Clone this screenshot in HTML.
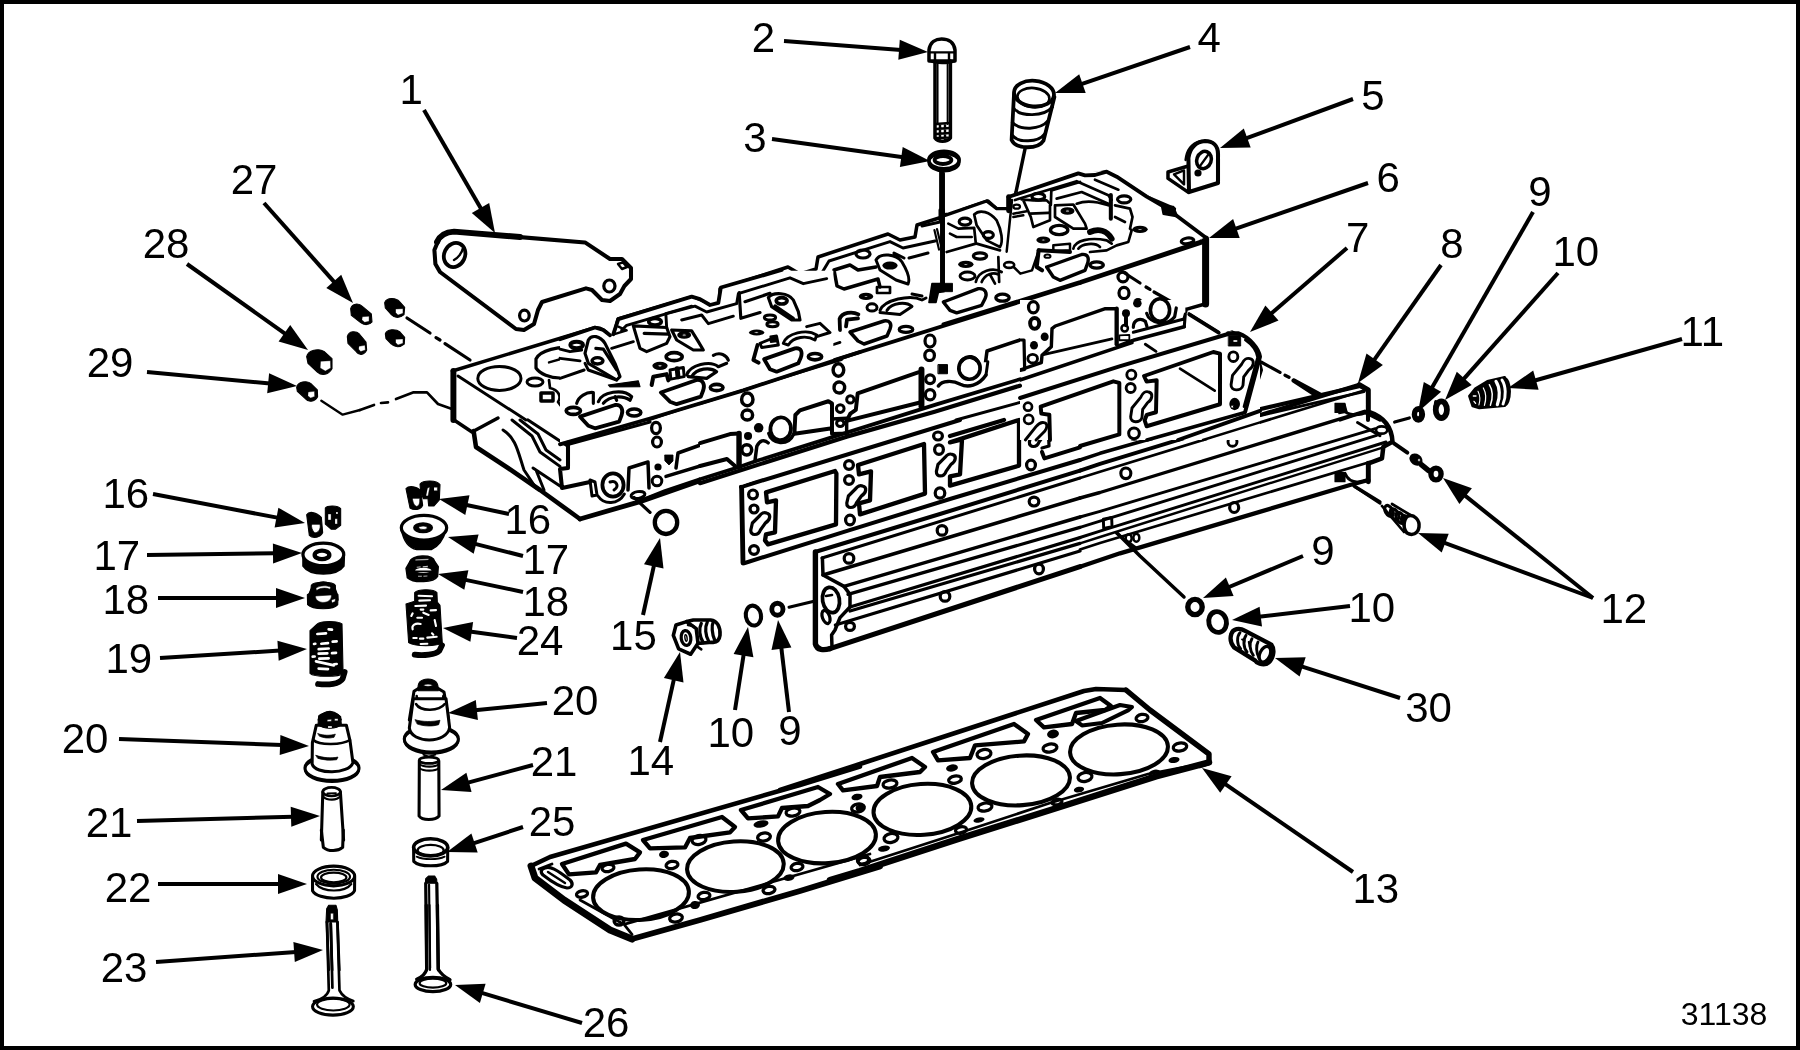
<!DOCTYPE html>
<html><head><meta charset="utf-8"><title>31138</title>
<style>
html,body{margin:0;padding:0;background:#fff;}
body{width:1800px;height:1050px;overflow:hidden;position:relative;}
#frame{position:absolute;left:0;top:0;width:1800px;height:1050px;box-sizing:border-box;border:4px solid #000;pointer-events:none;}
svg{position:absolute;left:0;top:0;display:block;}
svg text{font-family:"Liberation Sans",Arial,Helvetica,sans-serif;fill:#000;}
svg{will-change:transform;}
</style></head><body>
<svg width="1800" height="1050" viewBox="0 0 1800 1050" stroke-linecap="round" stroke-linejoin="round">
<text x="399.4" y="104" font-size="42">1</text>
<text x="230.7" y="193.5" font-size="42">27</text>
<text x="142.7" y="257.5" font-size="42">28</text>
<text x="86.7" y="377" font-size="42">29</text>
<text x="751.7" y="52" font-size="42">2</text>
<text x="743.2" y="152" font-size="42">3</text>
<text x="1197.5" y="52" font-size="42">4</text>
<text x="1361.2" y="109.5" font-size="42">5</text>
<text x="1376.4" y="192" font-size="42">6</text>
<text x="1346.0" y="252" font-size="42">7</text>
<text x="1440.2" y="257.5" font-size="42">8</text>
<text x="1528.2" y="206" font-size="42">9</text>
<text x="1552.4" y="266" font-size="42">10</text>
<text x="1680.4" y="346" font-size="42">11</text>
<text x="102.4" y="508" font-size="42">16</text>
<text x="93.4" y="570" font-size="42">17</text>
<text x="102.4" y="613.5" font-size="42">18</text>
<text x="105.4" y="673" font-size="42">19</text>
<text x="504.4" y="534" font-size="42">16</text>
<text x="522.4" y="574" font-size="42">17</text>
<text x="522.4" y="616" font-size="42">18</text>
<text x="516.7" y="655" font-size="42">24</text>
<text x="551.7" y="715" font-size="42">20</text>
<text x="61.7" y="753" font-size="42">20</text>
<text x="85.7" y="837" font-size="42">21</text>
<text x="104.7" y="902" font-size="42">22</text>
<text x="100.7" y="982" font-size="42">23</text>
<text x="530.7" y="776" font-size="42">21</text>
<text x="528.7" y="836" font-size="42">25</text>
<text x="582.7" y="1037" font-size="42">26</text>
<text x="610.1" y="650" font-size="42">15</text>
<text x="627.4" y="775" font-size="42">14</text>
<text x="707.4" y="747" font-size="42">10</text>
<text x="778.2" y="745" font-size="42">9</text>
<text x="1311.2" y="565" font-size="42">9</text>
<text x="1348.4" y="622" font-size="42">10</text>
<text x="1600.4" y="623" font-size="42">12</text>
<text x="1405.2" y="722" font-size="42">30</text>
<clipPath id="c13"><rect x="1340" y="860" width="58.5" height="60"/></clipPath>
<g clip-path="url(#c13)">
<text x="1352.4" y="903" font-size="42">13</text>
</g>
<text x="1680.7" y="1025" font-size="32">31138</text>
<line x1="424.0" y1="110.0" x2="481.5" y2="209.6" stroke="#000" stroke-width="4" stroke-linecap="butt"/>
<polygon points="495.0,233.0 471.8,212.9 489.2,202.9" fill="#000"/>
<line x1="264.0" y1="203.0" x2="335.0" y2="282.8" stroke="#000" stroke-width="4" stroke-linecap="butt"/>
<polygon points="353.0,303.0 326.3,288.0 341.2,274.7" fill="#000"/>
<line x1="187.0" y1="264.0" x2="286.0" y2="334.4" stroke="#000" stroke-width="4" stroke-linecap="butt"/>
<polygon points="308.0,350.0 278.6,341.4 290.2,325.0" fill="#000"/>
<line x1="147.0" y1="372.0" x2="270.1" y2="383.5" stroke="#000" stroke-width="4" stroke-linecap="butt"/>
<polygon points="297.0,386.0 267.2,393.3 269.1,373.3" fill="#000"/>
<line x1="784.0" y1="41.0" x2="901.1" y2="49.9" stroke="#000" stroke-width="4" stroke-linecap="butt"/>
<polygon points="928.0,52.0 898.3,59.8 899.8,39.8" fill="#000"/>
<line x1="772.0" y1="139.0" x2="903.3" y2="157.3" stroke="#000" stroke-width="4" stroke-linecap="butt"/>
<polygon points="930.0,161.0 899.9,166.9 902.7,147.1" fill="#000"/>
<line x1="1190.0" y1="47.0" x2="1080.6" y2="84.3" stroke="#000" stroke-width="4" stroke-linecap="butt"/>
<polygon points="1055.0,93.0 1079.2,74.2 1085.7,93.1" fill="#000"/>
<line x1="1353.0" y1="99.0" x2="1245.3" y2="138.7" stroke="#000" stroke-width="4" stroke-linecap="butt"/>
<polygon points="1220.0,148.0 1243.8,128.6 1250.7,147.4" fill="#000"/>
<line x1="1368.0" y1="183.0" x2="1234.5" y2="229.2" stroke="#000" stroke-width="4" stroke-linecap="butt"/>
<polygon points="1209.0,238.0 1233.1,219.1 1239.7,238.0" fill="#000"/>
<line x1="1347.0" y1="248.0" x2="1270.4" y2="314.3" stroke="#000" stroke-width="4" stroke-linecap="butt"/>
<polygon points="1250.0,332.0 1265.4,305.5 1278.5,320.6" fill="#000"/>
<line x1="1441.0" y1="265.0" x2="1373.5" y2="360.9" stroke="#000" stroke-width="4" stroke-linecap="butt"/>
<polygon points="1358.0,383.0 1366.5,353.5 1382.9,365.0" fill="#000"/>
<line x1="1533.0" y1="212.0" x2="1431.5" y2="388.6" stroke="#000" stroke-width="4" stroke-linecap="butt"/>
<polygon points="1418.0,412.0 1423.8,381.9 1441.1,391.8" fill="#000"/>
<line x1="1558.0" y1="273.0" x2="1462.9" y2="379.8" stroke="#000" stroke-width="4" stroke-linecap="butt"/>
<polygon points="1445.0,400.0 1456.8,371.7 1471.7,385.0" fill="#000"/>
<line x1="1682.0" y1="339.0" x2="1534.0" y2="380.7" stroke="#000" stroke-width="4" stroke-linecap="butt"/>
<polygon points="1508.0,388.0 1533.2,370.5 1538.6,389.8" fill="#000"/>
<line x1="153.0" y1="494.0" x2="278.5" y2="517.9" stroke="#000" stroke-width="4" stroke-linecap="butt"/>
<polygon points="305.0,523.0 274.6,527.4 278.4,507.7" fill="#000"/>
<line x1="147.0" y1="555.0" x2="275.0" y2="553.3" stroke="#000" stroke-width="4" stroke-linecap="butt"/>
<polygon points="302.0,553.0 273.1,563.4 272.9,543.4" fill="#000"/>
<line x1="158.0" y1="598.0" x2="278.0" y2="598.0" stroke="#000" stroke-width="4" stroke-linecap="butt"/>
<polygon points="305.0,598.0 276.0,608.0 276.0,588.0" fill="#000"/>
<line x1="160.0" y1="658.0" x2="280.1" y2="650.6" stroke="#000" stroke-width="4" stroke-linecap="butt"/>
<polygon points="307.0,649.0 278.7,660.8 277.4,640.8" fill="#000"/>
<line x1="509.0" y1="514.0" x2="465.4" y2="504.7" stroke="#000" stroke-width="4" stroke-linecap="butt"/>
<polygon points="439.0,499.0 469.5,495.3 465.3,514.9" fill="#000"/>
<line x1="523.0" y1="556.0" x2="474.2" y2="543.6" stroke="#000" stroke-width="4" stroke-linecap="butt"/>
<polygon points="448.0,537.0 478.6,534.4 473.7,553.8" fill="#000"/>
<line x1="523.0" y1="592.0" x2="464.4" y2="579.6" stroke="#000" stroke-width="4" stroke-linecap="butt"/>
<polygon points="438.0,574.0 468.4,570.2 464.3,589.8" fill="#000"/>
<line x1="517.0" y1="638.0" x2="469.8" y2="631.6" stroke="#000" stroke-width="4" stroke-linecap="butt"/>
<polygon points="443.0,628.0 473.1,622.0 470.4,641.8" fill="#000"/>
<line x1="119.0" y1="739.0" x2="282.0" y2="745.0" stroke="#000" stroke-width="4" stroke-linecap="butt"/>
<polygon points="309.0,746.0 279.7,754.9 280.4,734.9" fill="#000"/>
<line x1="137.0" y1="821.0" x2="293.0" y2="816.7" stroke="#000" stroke-width="4" stroke-linecap="butt"/>
<polygon points="320.0,816.0 291.3,826.8 290.7,806.8" fill="#000"/>
<line x1="158.0" y1="884.0" x2="280.0" y2="884.0" stroke="#000" stroke-width="4" stroke-linecap="butt"/>
<polygon points="307.0,884.0 278.0,894.0 278.0,874.0" fill="#000"/>
<line x1="156.0" y1="962.0" x2="296.1" y2="951.9" stroke="#000" stroke-width="4" stroke-linecap="butt"/>
<polygon points="323.0,950.0 294.8,962.1 293.4,942.1" fill="#000"/>
<line x1="547.0" y1="703.0" x2="474.9" y2="710.3" stroke="#000" stroke-width="4" stroke-linecap="butt"/>
<polygon points="448.0,713.0 475.8,700.1 477.9,720.0" fill="#000"/>
<line x1="533.0" y1="765.0" x2="467.1" y2="782.9" stroke="#000" stroke-width="4" stroke-linecap="butt"/>
<polygon points="441.0,790.0 466.4,772.7 471.6,792.0" fill="#000"/>
<line x1="523.0" y1="827.0" x2="472.6" y2="843.6" stroke="#000" stroke-width="4" stroke-linecap="butt"/>
<polygon points="447.0,852.0 471.4,833.4 477.7,852.4" fill="#000"/>
<line x1="582.0" y1="1023.0" x2="480.9" y2="992.7" stroke="#000" stroke-width="4" stroke-linecap="butt"/>
<polygon points="455.0,985.0 485.6,983.7 479.9,1002.9" fill="#000"/>
<line x1="643.0" y1="615.0" x2="654.2" y2="564.4" stroke="#000" stroke-width="4" stroke-linecap="butt"/>
<polygon points="660.0,538.0 663.5,568.5 644.0,564.2" fill="#000"/>
<line x1="660.0" y1="742.0" x2="674.1" y2="678.4" stroke="#000" stroke-width="4" stroke-linecap="butt"/>
<polygon points="680.0,652.0 683.5,682.5 663.9,678.1" fill="#000"/>
<line x1="735.0" y1="710.0" x2="743.8" y2="653.7" stroke="#000" stroke-width="4" stroke-linecap="butt"/>
<polygon points="748.0,627.0 753.4,657.2 733.6,654.1" fill="#000"/>
<line x1="789.0" y1="712.0" x2="781.2" y2="646.8" stroke="#000" stroke-width="4" stroke-linecap="butt"/>
<polygon points="778.0,620.0 791.4,647.6 771.5,650.0" fill="#000"/>
<line x1="1303.0" y1="556.0" x2="1227.9" y2="587.5" stroke="#000" stroke-width="4" stroke-linecap="butt"/>
<polygon points="1203.0,598.0 1225.9,577.6 1233.6,596.0" fill="#000"/>
<line x1="1350.0" y1="606.0" x2="1258.8" y2="616.8" stroke="#000" stroke-width="4" stroke-linecap="butt"/>
<polygon points="1232.0,620.0 1259.6,606.7 1262.0,626.5" fill="#000"/>
<line x1="1400.0" y1="698.0" x2="1300.7" y2="666.2" stroke="#000" stroke-width="4" stroke-linecap="butt"/>
<polygon points="1275.0,658.0 1305.7,657.3 1299.6,676.4" fill="#000"/>
<line x1="1593.0" y1="598.0" x2="1464.1" y2="494.9" stroke="#000" stroke-width="4" stroke-linecap="butt"/>
<polygon points="1443.0,478.0 1471.9,488.3 1459.4,503.9" fill="#000"/>
<line x1="1593.0" y1="598.0" x2="1443.3" y2="542.4" stroke="#000" stroke-width="4" stroke-linecap="butt"/>
<polygon points="1418.0,533.0 1448.7,533.7 1441.7,552.5" fill="#000"/>
<line x1="1353.0" y1="872.0" x2="1224.2" y2="783.3" stroke="#000" stroke-width="4" stroke-linecap="butt"/>
<polygon points="1202.0,768.0 1231.6,776.2 1220.2,792.7" fill="#000"/>
<g transform="translate(360,210) scale(0.2)" fill="none" stroke="#000" stroke-width="11">
<path d="M460,108 L1125,162 L1250,245 L1310,245 L1355,290 L1355,345 L1322,380 L1300,420 L1250,455 L1210,450 L1160,400 L1130,392 L910,460 L890,500 L870,570 L820,600 L780,595 L400,310 L377,270 L372,200 L395,145 L430,115 Z" stroke-width="20.25" fill="none"/>
<path d="M385,160 C400,125 430,110 470,108 L800,135" stroke-width="29.700000000000003" fill="none"/>
<ellipse cx="473" cy="225" rx="52" ry="62" stroke-width="18.900000000000002" fill="none" transform="rotate(25 473 225)"/>
<path d="M470,250 C490,240 510,215 515,190" stroke-width="12.15" fill="none"/>
<ellipse cx="1247" cy="380" rx="28" ry="30" stroke-width="16.200000000000003" fill="none"/>
<ellipse cx="822" cy="528" rx="24" ry="27" stroke-width="16.200000000000003" fill="none"/>
<path d="M1290,270 L1315,262 L1335,285 L1310,295 Z" stroke-width="12.15" fill="none"/>
<path d="M235,540 L350,615 M380,638 L400,650 M425,668 L550,750" stroke-width="16.200000000000003" fill="none"/>
<path d="M0,1000 L70,975 M105,965 L140,962 M180,945 L265,912 L335,912 L390,970 L460,995" stroke-width="13.5" fill="none"/>
<path d="M462,805 L1170,590 C1200,585 1225,600 1245,628" stroke-width="17.55" fill="none"/>
<path d="M1270,622 L1290,545 L1660,435 L1720,470 L1800,480" stroke-width="17.55" fill="none"/>
<path d="M1310,560 L1335,600 L1285,612" stroke-width="12.15" fill="none"/>
<path d="M467,805 L467,1050" stroke-width="29.700000000000003" fill="none"/>
<path d="M490,830 L830,1050" stroke-width="14.850000000000001" fill="none"/>
<ellipse cx="697" cy="842" rx="108" ry="60" stroke-width="14.850000000000001" fill="none"/>
<ellipse cx="875" cy="860" rx="40" ry="20" stroke-width="14.850000000000001" fill="none"/>
<path d="M905,915 L965,915 L965,955 L905,955 Z" stroke-width="17.55" fill="none"/>
<path d="M880,745 C900,700 1000,680 1060,690 L1120,740 C1130,770 1125,800 1120,810 L1000,840 C950,840 900,820 880,790 Z" stroke-width="16.200000000000003" fill="none"/>
<path d="M945,762 L1040,735 L1100,745" stroke-width="12.15" fill="none"/>
<ellipse cx="1085" cy="675" rx="30" ry="18" stroke-width="18.900000000000002" fill="none"/>
<ellipse cx="1190" cy="750" rx="28" ry="18" stroke-width="18.900000000000002" fill="none"/>
<path d="M1140,650 C1170,615 1215,650 1245,720 C1275,785 1300,830 1310,865 M1140,650 C1130,685 1150,710 1185,720 M1190,690 L1235,725 M1140,800 L1300,860" stroke-width="13.5" fill="none"/>
<path d="M1255,670 L1370,635 L1380,655 M1265,700 L1365,685" stroke-width="13.5" fill="none"/>
<path d="M945,850 L950,890 C990,900 1010,930 990,960 L1005,980 L1100,950 M1080,940 C1090,920 1130,910 1160,915 L1165,970 M1195,970 C1200,930 1240,905 1300,910 C1340,912 1360,930 1350,950 L1280,930 L1215,960" stroke-width="13.5" fill="none"/>
<path d="M1300,860 L1400,850 L1405,890 L1470,905 L1440,930 L1100,990 M1100,990 L1105,965" stroke-width="14.850000000000001" fill="none"/>
<ellipse cx="1075" cy="1005" rx="40" ry="20" stroke-width="16.200000000000003" fill="none"/>
<ellipse cx="1370" cy="1015" rx="30" ry="18" stroke-width="16.200000000000003" fill="none"/>
<path d="M1130,1010 L1300,985 L1310,1050" stroke-width="13.5" fill="none"/>
<path d="M1370,575 L1530,540 L1560,610 L1690,600 L1720,680 L1690,700 L1600,680 L1450,715 L1400,690 L1385,610 Z" stroke-width="13.5" fill="none"/>
<ellipse cx="1480" cy="560" rx="30" ry="18" stroke-width="17.55" fill="none"/>
<ellipse cx="1615" cy="625" rx="28" ry="16" stroke-width="17.55" fill="none"/>
<path d="M1540,520 L1680,480 L1760,500 M1610,550 L1700,530 L1750,565 L1800,560 M1420,620 L1540,600" stroke-width="12.15" fill="none"/>
<ellipse cx="1570" cy="735" rx="40" ry="18" stroke-width="13.5" fill="none" transform="rotate(-10 1570 735)"/>
<ellipse cx="1500" cy="775" rx="32" ry="18" stroke-width="17.55" fill="none"/>
<path d="M1545,840 L1550,790 L1600,780 L1605,830 M1640,820 C1660,780 1720,765 1800,770 M1680,830 C1700,805 1750,795 1800,800" stroke-width="13.5" fill="none"/>
<path d="M1460,830 L1540,815 L1545,850 L1480,870 Z" stroke-width="12.15" fill="none"/>
<path d="M1510,905 L1670,850 L1700,870 L1710,910 L1580,965 L1545,950 Z" stroke-width="14.850000000000001" fill="none"/>
<ellipse cx="1780" cy="890" rx="25" ry="14" stroke-width="13.5" fill="none"/>
<path d="M1440,1050 L1800,930" stroke-width="16.200000000000003" fill="none"/>
</g>
<g transform="translate(360,420) scale(0.2)" fill="none" stroke="#000" stroke-width="11">
<path d="M470,0 L560,60 L690,-10" stroke-width="17.55" fill="none"/>
<path d="M568,55 L580,135 L740,240 L900,350 L1100,495" stroke-width="22.950000000000003" fill="none"/>
<path d="M1100,495 L1400,408 L1800,268" stroke-width="24.3" fill="none"/>
<path d="M1040,0 L1040,240 L1000,245 L1010,340 L1150,310" stroke-width="20.25" fill="none"/>
<path d="M840,0 L1030,125 L1450,10" stroke-width="16.200000000000003" fill="none"/>
<path d="M715,50 C780,90 790,160 820,250 L880,340 M760,0 L860,80 L900,160 L1000,232 M800,0 L890,70 L930,150 L1000,200 M865,240 L1000,330 M880,250 L920,350" stroke-width="14.850000000000001" fill="none"/>
<path d="M1150,300 L1175,310 L1185,375 L1160,380 Z" stroke-width="14.850000000000001" fill="none"/>
<ellipse cx="1265" cy="325" rx="53" ry="58" stroke-width="18.900000000000002" fill="none"/>
<path d="M1250,310 C1280,300 1300,330 1270,350 M1190,380 C1220,425 1290,425 1322,370" stroke-width="14.850000000000001" fill="none"/>
<path d="M1340,350 L1345,240 L1440,210 L1445,340" stroke-width="17.55" fill="none"/>
<ellipse cx="1490" cy="235" rx="18" ry="18" stroke="none" fill="#000"/>
<path d="M1525,175 L1565,175 L1565,205 L1545,225 L1525,205 Z" stroke-width="4.050000000000001" fill="#000"/>
<ellipse cx="1485" cy="305" rx="24" ry="24" stroke-width="14.850000000000001" fill="none"/>
<path d="M1580,240 L1590,165 L1800,90 M1530,282 L1800,200 M1400,405 L1525,355 L1800,262" stroke-width="17.55" fill="none"/>
<ellipse cx="1480" cy="40" rx="22" ry="28" stroke-width="16.200000000000003" fill="none"/>
<ellipse cx="1485" cy="110" rx="22" ry="25" stroke-width="16.200000000000003" fill="none"/>
<ellipse cx="1390" cy="375" rx="35" ry="17" stroke-width="14.850000000000001" fill="none" transform="rotate(-10 1390 375)"/>
<path d="M1370,387 L1450,462" stroke-width="16.200000000000003" fill="none"/>
<ellipse cx="1530" cy="512" rx="56" ry="58" stroke-width="21.6" fill="none"/>
</g>
<g transform="translate(240,270) scale(0.13333333333333333)" fill="none" stroke="#000" stroke-width="11">
<path d="M830,290 C840,250 890,245 920,275 L985,330 L990,390 C970,415 930,415 905,395 L835,340 Z" stroke-width="8.100000000000001" fill="#000"/>
<path d="M918,350 L968,347 L968,385 L935,392 L915,375 Z" stroke-width="2.7" fill="#fff"/>
<path d="M1085,245 C1100,205 1170,205 1200,240 L1235,280 L1230,335 C1200,362 1160,362 1135,335 L1090,285 Z" stroke-width="8.100000000000001" fill="#000"/>
<path d="M1168,293 L1222,290 L1222,325 L1185,338 L1168,320 Z" stroke-width="2.7" fill="#fff"/>
<path d="M805,500 C815,455 870,455 895,480 L945,540 L950,600 C930,642 890,642 870,610 L810,550 Z" stroke-width="8.100000000000001" fill="#000"/>
<path d="M893,572 L937,565 L940,600 L905,612 L890,595 Z" stroke-width="2.7" fill="#fff"/>
<path d="M1090,480 C1100,440 1170,440 1200,465 L1235,505 L1232,555 C1200,582 1160,582 1135,555 L1095,515 Z" stroke-width="8.100000000000001" fill="#000"/>
<path d="M1168,520 L1222,517 L1222,550 L1185,562 L1168,545 Z" stroke-width="2.7" fill="#fff"/>
<path d="M500,650 C510,600 590,585 630,610 L690,665 L690,740 C660,792 610,792 580,765 L510,700 Z" stroke-width="8.100000000000001" fill="#000"/>
<path d="M605,685 L678,680 L680,735 L640,758 L602,735 Z" stroke-width="2.7" fill="#fff"/>
<path d="M425,880 C435,835 500,830 530,850 L580,900 L582,950 C560,992 510,992 490,965 L430,910 Z" stroke-width="8.100000000000001" fill="#000"/>
<path d="M512,915 L558,910 L560,948 L530,960 L510,945 Z" stroke-width="2.7" fill="#fff"/>
<path d="M610,980 L770,1085 L900,1050" stroke-width="17.55" fill="none"/>
</g>
<g transform="translate(720,0) scale(0.2)" fill="none" stroke="#000" stroke-width="11">
<path d="M1045,305 L1045,250 C1050,210 1080,195 1108,195 C1140,195 1170,210 1175,250 L1175,305 Z" stroke-width="17.55" fill="none"/>
<path d="M1050,262 L1170,262 M1075,262 L1075,305 M1145,262 L1145,305 M1050,305 C1080,318 1140,318 1172,305" stroke-width="12.15" fill="none"/>
<path d="M1075,305 L1075,690 C1090,712 1135,712 1152,690 L1152,305" stroke-width="17.55" fill="none"/>
<path d="M1088,310 L1088,620 M1138,310 L1138,620" stroke-width="9.450000000000001" fill="none"/>
<path d="M1078,620 L1150,615 M1078,645 L1150,640 M1078,670 L1150,665 M1080,690 L1150,688 M1100,625 L1100,700 M1125,625 L1125,700" stroke-width="12.15" fill="none"/>
<ellipse cx="1120" cy="800" rx="76" ry="44" stroke-width="17.55" fill="none"/>
<ellipse cx="1120" cy="812" rx="76" ry="44" stroke-width="13.5" fill="none"/>
<ellipse cx="1115" cy="800" rx="42" ry="20" stroke-width="18.900000000000002" fill="none"/>
<path d="M1105,860 L1105,1050" stroke-width="18.900000000000002" fill="none"/>
<ellipse cx="1570" cy="468" rx="100" ry="64" stroke-width="18.900000000000002" fill="none" transform="rotate(5 1570 468)"/>
<ellipse cx="1567" cy="488" rx="80" ry="48" stroke-width="13.5" fill="none" transform="rotate(5 1567 488)"/>
<path d="M1470,470 L1458,700 C1480,748 1590,748 1618,702 L1672,485" stroke-width="18.900000000000002" fill="none"/>
<path d="M1468,540 C1500,585 1620,585 1662,535 M1462,612 C1500,652 1600,652 1642,602 M1460,675 C1490,715 1590,715 1625,668" stroke-width="14.850000000000001" fill="none"/>
<path d="M1525,745 L1480,960 L1455,1050" stroke-width="17.55" fill="none"/>
<path d="M1210,1050 L1340,1005 L1390,1050" stroke-width="17.55" fill="none"/>
<path d="M1450,1050 L1450,985 L1800,870" stroke-width="18.900000000000002" fill="none"/>
<path d="M1480,1005 L1800,905 M1500,1050 L1520,1000 L1600,980 L1620,1020 L1800,960 M1660,985 L1680,935" stroke-width="13.5" fill="none"/>
<ellipse cx="1590" cy="985" rx="28" ry="15" stroke-width="13.5" fill="none"/>
</g>
<g transform="translate(720,210) scale(0.2)" fill="none" stroke="#000" stroke-width="11">
<path d="M0,480 L0,395 L340,285 L400,320 L480,295 L490,235 L840,120 L900,150 L975,135 L985,75 L1095,40" stroke-width="17.55" fill="none"/>
<path d="M0,480 L50,440 L340,325 L415,365 L415,395 L540,375 M500,330 L545,255 L850,158 L915,190 L1075,155 M945,240 L1040,215 M10,440 L40,455 L0,465" stroke-width="14.850000000000001" fill="none"/>
<path d="M90,415 L100,545 L215,510 M130,455 L340,380" stroke-width="14.850000000000001" fill="none"/>
<path d="M240,440 C260,405 330,405 360,440 C390,490 400,530 390,555 L340,545 L280,490 Z" stroke-width="14.850000000000001" fill="none"/>
<ellipse cx="305" cy="455" rx="24" ry="16" stroke-width="16.200000000000003" fill="none"/>
<ellipse cx="255" cy="545" rx="30" ry="15" stroke-width="13.5" fill="none"/>
<ellipse cx="270" cy="578" rx="30" ry="15" stroke-width="13.5" fill="none"/>
<ellipse cx="180" cy="612" rx="32" ry="12" stroke-width="16.200000000000003" fill="none"/>
<path d="M320,672 C340,620 440,600 480,640 L470,662 C430,637 370,647 345,677 Z M200,660 L300,628 L300,682 L205,692 Z M250,640 L285,632 L285,655 L250,660 Z" stroke-width="13.5" fill="none"/>
<path d="M470,600 L520,575 L555,615 L480,640" stroke-width="13.5" fill="none"/>
<path d="M178,660 L155,760" stroke-width="17.55" fill="none"/>
<path d="M220,740 L380,695 C410,690 415,710 405,730 L390,770 L280,805 L250,790 Z" stroke-width="17.55" fill="none"/>
<ellipse cx="478" cy="738" rx="35" ry="15" stroke-width="14.850000000000001" fill="none"/>
<path d="M0,735 C30,740 42,755 30,765 L70,775 L0,800" stroke-width="13.5" fill="none"/>
<path d="M570,300 L650,275 L690,300 L780,285 M570,300 L585,380 L620,395 L790,345 L800,385" stroke-width="17.55" fill="none"/>
<ellipse cx="715" cy="220" rx="35" ry="20" stroke-width="16.200000000000003" fill="none"/>
<path d="M780,250 C800,212 880,218 910,260 C940,310 950,350 940,370 L880,350 L800,300 Z M870,215 L920,240" stroke-width="14.850000000000001" fill="none"/>
<ellipse cx="850" cy="278" rx="38" ry="20" stroke="none" fill="#000"/>
<path d="M785,385 L850,385 L850,415 L785,415 Z" stroke-width="13.5" fill="none"/>
<ellipse cx="730" cy="432" rx="36" ry="18" stroke="none" fill="#000"/>
<ellipse cx="730" cy="432" rx="12" ry="6" stroke-width="8.100000000000001" fill="#fff"/>
<ellipse cx="760" cy="487" rx="25" ry="18" stroke-width="14.850000000000001" fill="none"/>
<path d="M800,502 C820,450 950,420 1010,450 L1030,440 M835,502 C860,462 930,457 960,482 L900,522 L800,512 M960,420 L1010,430" stroke-width="14.850000000000001" fill="none"/>
<path d="M600,600 L598,545 C610,512 660,505 692,522 M630,582 L635,548 L690,542" stroke-width="18.900000000000002" fill="none"/>
<path d="M650,610 L820,555 C850,550 860,570 850,595 L835,630 L720,670 L690,655 Z" stroke-width="17.55" fill="none"/>
<ellipse cx="930" cy="597" rx="34" ry="15" stroke-width="16.200000000000003" fill="none"/>
<path d="M1115,0 L1115,385" stroke-width="20.25" fill="none"/>
<path d="M1060,368 L1160,368 L1160,402 L1092,412 L1080,462 L1045,462 Z" stroke-width="8.100000000000001" fill="#000"/>
<path d="M1072,100 L1095,198 M1085,95 L1108,190" stroke-width="10.8" fill="none"/>
<path d="M1100,0 L1100,60 L1010,80" stroke-width="14.850000000000001" fill="none"/>
<ellipse cx="1225" cy="60" rx="30" ry="18" stroke-width="16.200000000000003" fill="none"/>
<ellipse cx="1345" cy="125" rx="28" ry="18" stroke-width="16.200000000000003" fill="none"/>
<ellipse cx="1690" cy="100" rx="40" ry="20" stroke-width="14.850000000000001" fill="none"/>
<ellipse cx="1615" cy="150" rx="36" ry="16" stroke="none" fill="#000"/>
<ellipse cx="1615" cy="150" rx="12" ry="5" stroke-width="6.75" fill="#fff"/>
<ellipse cx="1310" cy="230" rx="35" ry="16" stroke-width="14.850000000000001" fill="none"/>
<ellipse cx="1235" cy="270" rx="40" ry="18" stroke="none" fill="#000"/>
<ellipse cx="1235" cy="270" rx="12" ry="5" stroke-width="6.75" fill="#fff"/>
<ellipse cx="1240" cy="325" rx="35" ry="18" stroke-width="14.850000000000001" fill="none"/>
<ellipse cx="1450" cy="270" rx="25" ry="13" stroke-width="13.5" fill="none"/>
<path d="M1420,0 L1388,360" stroke-width="16.200000000000003" fill="none"/>
<path d="M1280,352 C1290,310 1370,290 1425,312 M1312,357 C1322,325 1372,315 1402,327" stroke-width="14.850000000000001" fill="none"/>
<path d="M1130,20 L1200,120 L1280,100 L1290,180 L1140,215 M1290,20 C1330,40 1380,80 1400,130 M1290,150 C1340,170 1380,190 1400,200 M1140,130 L1200,120" stroke-width="13.5" fill="none"/>
<path d="M1120,460 L1290,395 C1330,390 1340,410 1330,440 L1310,470 L1190,510 L1150,495 Z" stroke-width="17.55" fill="none"/>
<ellipse cx="1415" cy="435" rx="34" ry="16" stroke-width="16.200000000000003" fill="none"/>
<path d="M1630,292 L1800,240 M1640,300 L1682,347 L1800,320 M1440,170 L1442,215 M1545,30 L1560,75 L1640,60 M1470,30 L1520,25 M1600,160 L1590,220 L1562,300 L1500,312 L1470,285 M1700,170 L1800,150 M1660,40 L1800,20 M1760,80 L1800,100" stroke-width="14.850000000000001" fill="none"/>
<path d="M0,930 L1800,365" stroke-width="18.900000000000002" fill="none"/>
<path d="M75,778 L170,748 M560,675 L600,662" stroke-width="13.5" fill="none"/>
<path d="M690,1000 L700,910 L990,822 M1005,800 L1005,975 M640,1042 L1000,957" stroke-width="17.55" fill="none"/>
<path d="M1005,800 L1005,975" stroke-width="27.0" fill="none"/>
<path d="M1320,820 L1335,705 L1500,650 L1525,652 L1530,790" stroke-width="17.55" fill="none"/>
<path d="M370,1050 L390,1000 L540,955 L560,1050" stroke-width="16.200000000000003" fill="none"/>
<path d="M1090,965 L1800,775" stroke-width="17.55" fill="none"/>
<ellipse cx="1245" cy="795" rx="52" ry="62" stroke-width="17.55" fill="none" transform="rotate(10 1245 795)"/>
<path d="M1090,778 L1138,772 L1140,820 L1092,822 Z" stroke-width="5.4" fill="#000"/>
<ellipse cx="1625" cy="635" rx="22" ry="24" stroke="none" fill="#000"/>
<ellipse cx="1570" cy="678" rx="20" ry="22" stroke="none" fill="#000"/>
<ellipse cx="1055" cy="852" rx="22" ry="22" stroke-width="14.850000000000001" fill="none"/>
<ellipse cx="1060" cy="920" rx="22" ry="28" stroke-width="14.850000000000001" fill="none" transform="rotate(10 1060 920)"/>
<ellipse cx="1565" cy="745" rx="22" ry="22" stroke-width="14.850000000000001" fill="none"/>
<ellipse cx="595" cy="992" rx="22" ry="22" stroke-width="14.850000000000001" fill="none"/>
<ellipse cx="650" cy="942" rx="22" ry="24" stroke-width="14.850000000000001" fill="none"/>
<ellipse cx="135" cy="945" rx="25" ry="30" stroke-width="14.850000000000001" fill="none" transform="rotate(10 135 945)"/>
<ellipse cx="135" cy="1025" rx="25" ry="25" stroke-width="14.850000000000001" fill="none"/>
<ellipse cx="590" cy="802" rx="25" ry="30" stroke-width="16.200000000000003" fill="none"/>
<ellipse cx="592" cy="885" rx="24" ry="28" stroke-width="16.200000000000003" fill="none" transform="rotate(15 592 885)"/>
<ellipse cx="1050" cy="655" rx="25" ry="30" stroke-width="16.200000000000003" fill="none"/>
<ellipse cx="1048" cy="727" rx="24" ry="26" stroke-width="16.200000000000003" fill="none"/>
<ellipse cx="1570" cy="490" rx="25" ry="30" stroke-width="16.200000000000003" fill="none"/>
<ellipse cx="1572" cy="565" rx="24" ry="28" stroke-width="16.200000000000003" fill="none"/>
<path d="M1090,900 C1100,862 1150,850 1180,862 C1220,892 1270,882 1300,852" stroke-width="16.200000000000003" fill="none"/>
<path d="M1660,700 C1650,640 1680,580 1800,545 M1610,722 L1800,680" stroke-width="16.200000000000003" fill="none"/>
<path d="M1180,1050 L1800,880 M1600,1050 L1620,990 L1800,940 M1540,975 L1550,1010" stroke-width="14.850000000000001" fill="none"/>
<ellipse cx="1540" cy="985" rx="18" ry="20" stroke-width="12.15" fill="none"/>
<ellipse cx="5" cy="888" rx="14" ry="16" stroke="none" fill="#000"/>
</g>
<g transform="translate(720,420) scale(0.2)" fill="none" stroke="#000" stroke-width="11">
<path d="M0,215 L100,225 L170,200 L560,80 L640,62 L870,0" stroke-width="17.55" fill="none"/>
<path d="M0,290 L540,130 L940,0" stroke-width="18.900000000000002" fill="none"/>
<path d="M0,90 L85,75 L95,215" stroke-width="18.900000000000002" fill="none"/>
<ellipse cx="135" cy="148" rx="22" ry="22" stroke-width="16.200000000000003" fill="none"/>
<ellipse cx="135" cy="85" rx="20" ry="20" stroke="none" fill="#000"/>
<ellipse cx="195" cy="40" rx="24" ry="24" stroke="none" fill="#000"/>
<path d="M250,0 C250,60 280,100 310,100 C345,100 365,60 360,0" stroke-width="17.55" fill="none"/>
<path d="M170,200 C175,130 200,100 240,112 C280,142 340,132 380,82 L380,0" stroke-width="16.200000000000003" fill="none"/>
<path d="M560,80 L560,40 L630,25 L635,62" stroke-width="16.200000000000003" fill="none"/>
<ellipse cx="592" cy="12" rx="20" ry="18" stroke-width="14.850000000000001" fill="none"/>
<path d="M108,335 L115,715" stroke-width="24.3" fill="none"/>
<path d="M105,335 L1200,0" stroke-width="20.25" fill="none"/>
<path d="M120,716 L640,553 L1150,395 L1800,200" stroke-width="20.25" fill="none"/>
<path d="M230,362 L575,255 L582,268 L580,522 L240,622 L225,602 L230,572 L275,562 L280,402 L235,412 Z" stroke-width="21.6" fill="none"/>
<path d="M690,225 L1020,120 L1025,368 L700,472 L695,417 L750,402 L755,257 L695,272 Z" stroke-width="21.6" fill="none"/>
<path d="M1150,80 L1420,0 M1495,0 L1495,228 L1150,328 L1150,282 L1200,272 L1210,97 L1150,112 Z" stroke-width="21.6" fill="none"/>
<ellipse cx="165" cy="372" rx="22" ry="22" stroke-width="16.200000000000003" fill="none"/>
<ellipse cx="170" cy="445" rx="20" ry="20" stroke-width="16.200000000000003" fill="none"/>
<path d="M232,465 C257,470 252,500 227,515 L202,550 C192,580 152,580 154,550 L162,515 L197,480 C207,465 222,460 232,465 Z" stroke-width="16.200000000000003" fill="none"/>
<ellipse cx="170" cy="650" rx="22" ry="22" stroke-width="16.200000000000003" fill="none"/>
<ellipse cx="645" cy="225" rx="22" ry="22" stroke-width="16.200000000000003" fill="none"/>
<ellipse cx="645" cy="300" rx="22" ry="22" stroke-width="16.200000000000003" fill="none"/>
<path d="M712,330 C737,335 732,365 707,380 L682,415 C672,445 632,445 634,415 L642,380 L677,345 C687,330 702,325 712,330 Z" stroke-width="16.200000000000003" fill="none"/>
<ellipse cx="650" cy="500" rx="22" ry="24" stroke-width="16.200000000000003" fill="none"/>
<ellipse cx="1090" cy="80" rx="22" ry="20" stroke-width="16.200000000000003" fill="none"/>
<ellipse cx="1095" cy="148" rx="22" ry="24" stroke-width="16.200000000000003" fill="none"/>
<path d="M1160,172 C1185,177 1180,207 1155,222 L1130,257 C1120,287 1080,287 1082,257 L1090,222 L1125,187 C1135,172 1150,167 1160,172 Z" stroke-width="16.200000000000003" fill="none"/>
<ellipse cx="1100" cy="365" rx="24" ry="26" stroke-width="16.200000000000003" fill="none"/>
<path d="M1625,25 C1650,30 1645,60 1620,75 L1595,110 C1585,140 1545,140 1547,110 L1555,75 L1590,40 C1600,25 1615,20 1625,25 Z" stroke-width="16.200000000000003" fill="none"/>
<ellipse cx="1555" cy="225" rx="22" ry="24" stroke-width="16.200000000000003" fill="none"/>
<path d="M1610,160 L1622,192 L1800,137" stroke-width="20.25" fill="none"/>
<path d="M1640,0 L1645,130 L1610,140" stroke-width="16.200000000000003" fill="none"/>
<path d="M477,660 L477,1120 C485,1152 520,1152 550,1143" stroke-width="27.0" fill="none"/>
<path d="M475,660 L1100,470 L1800,253" stroke-width="20.25" fill="none"/>
<path d="M510,690 L1800,290" stroke-width="14.850000000000001" fill="none"/>
<path d="M512,690 L515,775 L1100,600 L1800,390" stroke-width="17.55" fill="none"/>
<path d="M515,775 L620,832 L1800,485" stroke-width="17.55" fill="none"/>
<path d="M640,872 L1800,537 M650,935 L1800,588 M650,955 L1800,617 M577,1025 L1800,655" stroke-width="16.200000000000003" fill="none"/>
<path d="M550,1143 L1800,733" stroke-width="25.650000000000002" fill="none"/>
<path d="M620,832 L650,872 L650,935 L600,988 L575,1050 L558,1075 L560,1135" stroke-width="17.55" fill="none"/>
<ellipse cx="555" cy="900" rx="42" ry="64" stroke-width="18.900000000000002" fill="none" transform="rotate(-10 555 900)"/>
<path d="M530,880 L560,875" stroke-width="13.5" fill="none"/>
<ellipse cx="530" cy="985" rx="18" ry="34" stroke-width="16.200000000000003" fill="none" transform="rotate(-20 530 985)"/>
<ellipse cx="645" cy="692" rx="24" ry="24" stroke-width="16.200000000000003" fill="none"/>
<ellipse cx="1110" cy="552" rx="24" ry="24" stroke-width="16.200000000000003" fill="none"/>
<ellipse cx="1570" cy="408" rx="24" ry="22" stroke-width="16.200000000000003" fill="none"/>
<ellipse cx="1125" cy="882" rx="24" ry="24" stroke-width="16.200000000000003" fill="none"/>
<ellipse cx="1595" cy="745" rx="22" ry="24" stroke-width="16.200000000000003" fill="none"/>
<ellipse cx="650" cy="1032" rx="22" ry="20" stroke-width="16.200000000000003" fill="none"/>
<ellipse cx="167" cy="978" rx="38" ry="50" stroke-width="20.25" fill="none" transform="rotate(-10 167 978)"/>
<ellipse cx="287" cy="946" rx="28" ry="30" stroke-width="24.3" fill="none"/>
<path d="M345,936 L470,906" stroke-width="14.850000000000001" fill="none"/>
</g>
<g transform="translate(1080,0) scale(0.2)" fill="none" stroke="#000" stroke-width="11">
<path d="M545,960 L542,790 C548,740 580,708 625,705 C665,705 690,730 690,770 L690,915 Z" stroke-width="20.25" fill="none"/>
<path d="M528,800 C533,752 560,718 600,706" stroke-width="12.15" fill="none"/>
<ellipse cx="620" cy="800" rx="36" ry="44" stroke-width="17.55" fill="none" transform="rotate(20 620 800)"/>
<path d="M600,830 L640,775" stroke-width="10.8" fill="none"/>
<ellipse cx="590" cy="865" rx="18" ry="18" stroke="none" fill="#000"/>
<path d="M542,830 L440,860 L440,892 L542,962" stroke-width="17.55" fill="none"/>
<path d="M520,852 L470,872 L520,922 Z" stroke-width="12.15" fill="none"/>
<path d="M0,880 L130,862 L200,900 L330,985 L470,1045" stroke-width="21.6" fill="none"/>
<path d="M0,930 L160,992 L160,1050 M70,912 L230,987 M0,965 L150,1030" stroke-width="14.850000000000001" fill="none"/>
<ellipse cx="215" cy="1000" rx="40" ry="15" stroke-width="14.850000000000001" fill="none"/>
</g>
<g transform="translate(1080,210) scale(0.2)" fill="none" stroke="#000" stroke-width="11">
<path d="M628,145 L628,470" stroke-width="35.1" fill="none"/>
<path d="M0,365 L200,298 L620,160" stroke-width="18.900000000000002" fill="none"/>
<path d="M410,25 L600,135" stroke-width="24.3" fill="none"/>
<path d="M625,470 L530,497 L520,575 L250,652 L0,705" stroke-width="17.55" fill="none"/>
<path d="M0,650 L180,600 M470,490 L530,497" stroke-width="16.200000000000003" fill="none"/>
<path d="M215,310 L300,365 M330,385 L350,397 M370,410 L480,472 M545,520 L690,612" stroke-width="16.200000000000003" fill="none"/>
<ellipse cx="215" cy="335" rx="25" ry="24" stroke-width="16.200000000000003" fill="none"/>
<ellipse cx="220" cy="415" rx="25" ry="28" stroke-width="16.200000000000003" fill="none"/>
<ellipse cx="290" cy="465" rx="25" ry="25" stroke="none" fill="#000"/>
<ellipse cx="395" cy="500" rx="48" ry="50" stroke-width="17.55" fill="none"/>
<path d="M335,520 C350,570 420,590 465,540 L480,490" stroke-width="16.200000000000003" fill="none"/>
<ellipse cx="228" cy="520" rx="16" ry="18" stroke="none" fill="#000"/>
<ellipse cx="225" cy="588" rx="20" ry="20" stroke-width="14.850000000000001" fill="none"/>
<path d="M270,580 C275,545 320,540 330,575" stroke-width="16.200000000000003" fill="none"/>
<path d="M0,545 L150,495 L185,502 L185,660" stroke-width="18.900000000000002" fill="none"/>
<path d="M200,640 L260,625 M330,680 L375,705" stroke-width="14.850000000000001" fill="none"/>
<ellipse cx="300" cy="100" rx="42" ry="18" stroke="none" fill="#000" transform="rotate(-10 300 100)"/>
<ellipse cx="300" cy="100" rx="14" ry="5" stroke-width="5.4" fill="#fff" transform="rotate(-10 300 100)"/>
<ellipse cx="85" cy="275" rx="35" ry="18" stroke-width="16.200000000000003" fill="none"/>
<ellipse cx="540" cy="150" rx="35" ry="14" stroke-width="14.850000000000001" fill="none" transform="rotate(-10 540 150)"/>
<path d="M140,0 L150,40 L250,60 L240,150 L160,190 L60,210 M0,130 C60,100 120,110 150,150 M0,180 C50,170 100,180 120,200 M0,60 L30,80 M170,30 L230,60 M420,0 L450,40" stroke-width="16.200000000000003" fill="none"/>
<path d="M0,235 L20,230 L25,300 L0,305" stroke-width="17.55" fill="none"/>
<path d="M0,850 L760,612 C830,640 890,720 905,800 L840,1005" stroke-width="20.25" fill="none"/>
<path d="M0,705 L520,580 M820,650 C860,690 880,750 880,800 L830,990" stroke-width="14.850000000000001" fill="none"/>
<path d="M330,832 L680,715 L700,730 L700,962 L420,1048 M330,832 L320,862 L380,852 L380,1010" stroke-width="18.900000000000002" fill="none"/>
<path d="M500,795 L670,900" stroke-width="14.850000000000001" fill="none"/>
<ellipse cx="258" cy="825" rx="22" ry="22" stroke-width="16.200000000000003" fill="none"/>
<ellipse cx="255" cy="890" rx="22" ry="22" stroke-width="16.200000000000003" fill="none"/>
<ellipse cx="765" cy="735" rx="22" ry="22" stroke-width="16.200000000000003" fill="none"/>
<path d="M745,640 L800,630 L805,670 L750,680 Z" stroke-width="6.75" fill="#000"/>
<ellipse cx="772" cy="962" rx="26" ry="30" stroke="none" fill="#000"/>
<path d="M840,755 C870,760 860,790 830,810 L800,850 L790,900 C770,920 740,910 745,880 L750,840 L790,790 C800,760 820,750 840,755 Z" stroke-width="14.850000000000001" fill="none"/>
<path d="M340,930 C360,935 355,960 330,980 L290,1020 L285,1050 M240,1050 L250,1000 L300,950 C315,930 330,925 340,930" stroke-width="14.850000000000001" fill="none"/>
<path d="M0,900 L180,860 L195,872 L195,1050" stroke-width="18.900000000000002" fill="none"/>
<path d="M840,1010 L1400,880 L1440,902 L1440,1050" stroke-width="20.25" fill="none"/>
<path d="M870,1035 L1420,908" stroke-width="14.850000000000001" fill="none"/>
<path d="M1285,980 L1325,972 L1335,1010 L1295,1018 Z" stroke-width="6.75" fill="#000"/>
<path d="M905,760 L1000,812 M1025,826 L1045,836 M1070,850 L1200,920" stroke-width="16.200000000000003" fill="none"/>
<path d="M1300,1050 L1420,1010 L1500,1050" stroke-width="16.200000000000003" fill="none"/>
<ellipse cx="1690" cy="1020" rx="14" ry="20" stroke-width="16.200000000000003" fill="none"/>
<path d="M1780,960 C1770,1000 1780,1030 1800,1040" stroke-width="18.900000000000002" fill="none"/>
</g>
<g transform="translate(1100,380) scale(0.16666666666666666)" fill="none" stroke="#000" stroke-width="11">
<path d="M275,250 L720,140 L720,-60 M275,250 L270,215 L322,200 L330,-60" stroke-width="22.950000000000003" fill="none"/>
<path d="M290,85 C320,90 315,130 285,150 L250,195 C240,240 180,250 170,210 L180,170 L230,110 C250,85 270,80 290,85 Z" stroke-width="16.200000000000003" fill="none"/>
<ellipse cx="185" cy="50" rx="25" ry="25" stroke-width="17.55" fill="none"/>
<ellipse cx="205" cy="325" rx="30" ry="30" stroke-width="20.25" fill="none"/>
<path d="M-120,480 L0,440 L210,380 L870,195" stroke-width="21.6" fill="none"/>
<ellipse cx="800" cy="140" rx="30" ry="34" stroke="none" fill="#000"/>
<ellipse cx="790" cy="160" rx="10" ry="10" stroke-width="6.75" fill="#fff"/>
<path d="M770,-60 L775,50 C790,80 830,70 835,40 L840,-60" stroke-width="16.200000000000003" fill="none"/>
<path d="M-120,544 L0,503 L1556,28" stroke-width="22.950000000000003" fill="none"/>
<path d="M-120,588 L0,550 L1580,64" stroke-width="16.200000000000003" fill="none"/>
<path d="M-120,708 L0,675 L1588,188" stroke-width="20.25" fill="none"/>
<path d="M-120,822 L0,788 L1652,292" stroke-width="17.55" fill="none"/>
<path d="M-120,884 L0,847 L1660,332" stroke-width="17.55" fill="none"/>
<path d="M-120,945 L0,907 L1716,372" stroke-width="17.55" fill="none"/>
<path d="M-120,980 L0,942 L1700,404" stroke-width="14.850000000000001" fill="none"/>
<path d="M-120,1017 L0,978 L1620,492" stroke-width="16.200000000000003" fill="none"/>
<path d="M-120,1120 L120,1040 L1500,630 L1610,600" stroke-width="25.650000000000002" fill="none"/>
<path d="M1556,28 L1610,60 L1610,190" stroke-width="29.700000000000003" fill="none"/>
<path d="M1410,140 L1470,140 L1470,195 L1410,195 Z" stroke-width="6.75" fill="#000"/>
<path d="M1470,190 C1500,215 1560,215 1605,190" stroke-width="17.55" fill="none"/>
<path d="M1610,190 C1700,220 1750,280 1755,370 L1700,400 L1692,470 L1612,500" stroke-width="27.0" fill="none"/>
<ellipse cx="1690" cy="300" rx="34" ry="22" stroke-width="16.200000000000003" fill="none"/>
<path d="M1545,255 L1680,335" stroke-width="17.55" fill="none"/>
<path d="M1610,500 L1610,610" stroke-width="29.700000000000003" fill="none"/>
<path d="M1410,555 L1470,555 L1470,610 L1410,610 Z" stroke-width="6.75" fill="#000"/>
<path d="M1470,560 C1490,610 1540,625 1610,600" stroke-width="17.55" fill="none"/>
<path d="M1530,640 L1680,740" stroke-width="17.55" fill="none"/>
<ellipse cx="795" cy="370" rx="27" ry="28" stroke-width="17.55" fill="none"/>
<ellipse cx="155" cy="560" rx="30" ry="32" stroke-width="18.900000000000002" fill="none"/>
<ellipse cx="805" cy="765" rx="27" ry="30" stroke-width="18.900000000000002" fill="none"/>
<path d="M20,835 L70,825 L72,880 L22,890 Z" stroke-width="17.55" fill="none"/>
<ellipse cx="172" cy="950" rx="18" ry="24" stroke-width="14.850000000000001" fill="none"/>
<ellipse cx="218" cy="946" rx="18" ry="24" stroke-width="14.850000000000001" fill="none"/>
<path d="M100,920 L220,1010" stroke-width="17.55" fill="none"/>
</g>
<g transform="translate(1290,350) scale(0.13333333333333333)" fill="none" stroke="#000" stroke-width="11">
<path d="M25,230 L195,340" stroke-width="29.700000000000003" fill="none"/>
<path d="M785,540 L895,510" stroke-width="24.3" fill="none"/>
<ellipse cx="963" cy="483" rx="30" ry="42" stroke-width="40.5" fill="none"/>
<ellipse cx="1135" cy="448" rx="42" ry="62" stroke-width="43.2" fill="none"/>
<path d="M1610,205 L1480,235 L1390,290 L1345,345 L1370,420 L1420,435 L1610,418 Z" stroke-width="18.900000000000002" fill="#000"/>
<ellipse cx="1605" cy="312" rx="40" ry="100" stroke-width="24.3" fill="#000"/>
<path d="M1590,225 C1620,270 1622,350 1598,405" stroke="#fff" stroke-width="22" fill="none"/>
<path d="M1545,235 C1575,280 1577,355 1555,410" stroke="#fff" stroke-width="24" fill="none"/>
<path d="M1495,260 C1520,300 1522,360 1503,415" stroke="#fff" stroke-width="11" fill="none"/>
<path d="M1450,285 C1470,320 1472,370 1458,415" stroke="#fff" stroke-width="9" fill="none"/>
<path d="M1410,310 C1425,340 1427,380 1417,412" stroke="#fff" stroke-width="8" fill="none"/>
<path d="M1375,345 L1395,345 M1380,385 L1392,400" stroke="#fff" stroke-width="10" fill="none"/>
<path d="M780,700 L880,770" stroke-width="29.700000000000003" fill="none"/>
<ellipse cx="945" cy="822" rx="52" ry="42" stroke="none" fill="#000" transform="rotate(35 945 822)"/>
<ellipse cx="968" cy="825" rx="10" ry="12" stroke-width="5.4" fill="#fff"/>
<path d="M985,860 L1040,905" stroke-width="40.5" fill="none"/>
<ellipse cx="1095" cy="930" rx="38" ry="44" stroke-width="40.5" fill="#fff"/>
</g>
<g transform="translate(1080,420) scale(0.2)" fill="none" stroke="#000" stroke-width="11">
<path d="M185,565 L300,680 L520,885" stroke-width="17.55" fill="none"/>
<ellipse cx="575" cy="935" rx="36" ry="38" stroke-width="27.0" fill="none"/>
<ellipse cx="688" cy="1010" rx="44" ry="52" stroke-width="24.3" fill="none" transform="rotate(-15 688 1010)"/>
<path d="M1370,330 L1500,410" stroke-width="16.200000000000003" fill="none"/>
<ellipse cx="1545" cy="455" rx="18" ry="30" stroke-width="16.200000000000003" fill="none" transform="rotate(-30 1545 455)"/>
<ellipse cx="1573" cy="472" rx="18" ry="30" stroke-width="16.200000000000003" fill="none" transform="rotate(-30 1573 472)"/>
<ellipse cx="1601" cy="489" rx="18" ry="30" stroke-width="16.200000000000003" fill="none" transform="rotate(-30 1601 489)"/>
<ellipse cx="1629" cy="506" rx="18" ry="30" stroke-width="16.200000000000003" fill="none" transform="rotate(-30 1629 506)"/>
<path d="M1510,430 L1620,560 M1560,420 L1660,480" stroke-width="13.5" fill="none"/>
<path d="M1640,480 C1670,470 1700,500 1695,535 C1690,570 1660,580 1635,565 C1615,545 1615,500 1640,480 Z" stroke-width="17.55" fill="#fff"/>
</g>
<g transform="translate(940,150) scale(0.16666666666666666)" fill="none" stroke="#000" stroke-width="11">
<path d="M28,395 L280,300 L345,345 L405,345 L405,275 L830,132 L1000,125 L1250,275 L1420,390 L1592,525 L840,792 L28,1040 Z" stroke-width="0.00135" fill="#fff"/>
</g>
<g transform="translate(940,150) scale(0.16666666666666666)" fill="none" stroke="#000" stroke-width="11">
<path d="M20,1046 L840,792 L1592,540" stroke-width="21.6" fill="none"/>
<path d="M410,282 L830,140 L870,152 L930,150 L1000,130 L1060,160 L1240,280 L1330,332" stroke-width="22.950000000000003" fill="none"/>
<path d="M1330,335 L1400,340 L1425,400 L1340,385 Z" stroke-width="10.8" fill="#000"/>
<path d="M1400,380 L1590,522" stroke-width="22.950000000000003" fill="none"/>
<path d="M412,280 L412,365" stroke-width="29.700000000000003" fill="none"/>
<path d="M432,300 L400,610" stroke-width="14.850000000000001" fill="none"/>
<path d="M450,300 L820,187 L1010,272 L1030,300 M930,178 L1070,238" stroke-width="16.200000000000003" fill="none"/>
<path d="M665,330 L668,242 L840,192 M700,292 L850,252 L1010,322" stroke-width="16.200000000000003" fill="none"/>
<path d="M1025,270 L1025,412" stroke-width="24.3" fill="none"/>
<ellipse cx="590" cy="280" rx="38" ry="20" stroke-width="20.25" fill="none"/>
<path d="M490,297 L560,302 L640,302 L660,322 M500,302 L545,402 L560,462 L660,422 L660,332 M540,382 L650,377" stroke-width="16.200000000000003" fill="none"/>
<path d="M440,382 L520,367 M440,402 L500,392" stroke-width="14.850000000000001" fill="none"/>
<ellipse cx="460" cy="340" rx="20" ry="12" stroke-width="13.5" fill="none"/>
<path d="M690,332 L800,327 L870,442 L880,472 L800,472 L690,402 Z" stroke-width="16.200000000000003" fill="none"/>
<ellipse cx="765" cy="366" rx="42" ry="23" stroke="none" fill="#000"/>
<ellipse cx="765" cy="366" rx="14" ry="7" stroke-width="6.75" fill="#fff"/>
<ellipse cx="715" cy="480" rx="52" ry="28" stroke-width="20.25" fill="none"/>
<ellipse cx="620" cy="540" rx="42" ry="21" stroke="none" fill="#000"/>
<ellipse cx="620" cy="540" rx="14" ry="6" stroke-width="6.75" fill="#fff"/>
<path d="M820,322 C900,292 980,322 1010,332 M1050,332 L1140,352 L1155,402 L1140,472 L1150,482 L1130,552 L1060,572 L1000,602 L900,612 M1050,402 L1110,432" stroke-width="16.200000000000003" fill="none"/>
<path d="M800,592 C810,542 900,522 1000,542 L1030,562 M830,592 C850,562 930,552 960,582" stroke-width="16.200000000000003" fill="none"/>
<path d="M900,492 C950,470 1000,482 1030,532" stroke-width="35.1" fill="none"/>
<ellipse cx="1105" cy="296" rx="40" ry="21" stroke-width="18.900000000000002" fill="none"/>
<ellipse cx="1200" cy="476" rx="46" ry="22" stroke="none" fill="#000"/>
<ellipse cx="1200" cy="476" rx="16" ry="6" stroke-width="6.75" fill="#fff"/>
<ellipse cx="1485" cy="545" rx="38" ry="17" stroke-width="18.900000000000002" fill="none" transform="rotate(-8 1485 545)"/>
<path d="M680,572 L780,562 L780,602 L680,607 Z" stroke-width="14.850000000000001" fill="none"/>
<path d="M592,602 L780,612" stroke-width="24.3" fill="none"/>
<path d="M592,602 L580,702 L612,722" stroke-width="24.3" fill="none"/>
<ellipse cx="645" cy="637" rx="18" ry="10" stroke-width="12.15" fill="none"/>
<path d="M640,702 L850,627 C890,622 895,652 885,682 L870,722 L720,782 L680,762 Z" stroke-width="20.25" fill="none"/>
<ellipse cx="940" cy="690" rx="40" ry="19" stroke-width="20.25" fill="none"/>
<ellipse cx="415" cy="690" rx="30" ry="17" stroke-width="16.200000000000003" fill="none"/>
<path d="M442,702 L482,742 L552,722 L590,612" stroke-width="14.850000000000001" fill="none"/>
<path d="M15,140 L15,800" stroke-width="29.700000000000003" fill="none"/>
<path d="M0,800 L75,800 L75,850 L0,850 Z" stroke-width="5.4" fill="#000"/>
<path d="M30,392 L280,306 L340,352 L410,352" stroke-width="20.25" fill="none"/>
<path d="M205,387 C240,352 300,372 340,422 C370,482 380,552 360,582 L280,542 L220,452 Z" stroke-width="16.200000000000003" fill="none"/>
<ellipse cx="290" cy="510" rx="30" ry="20" stroke-width="18.900000000000002" fill="none"/>
<ellipse cx="150" cy="430" rx="35" ry="21" stroke-width="18.900000000000002" fill="none"/>
<path d="M50,442 L110,472 L205,467 L215,562 L40,612 M60,502 L100,522 L190,522 M220,562 L360,602" stroke-width="16.200000000000003" fill="none"/>
<ellipse cx="240" cy="636" rx="40" ry="19" stroke-width="18.900000000000002" fill="none"/>
<ellipse cx="155" cy="686" rx="46" ry="22" stroke="none" fill="#000"/>
<ellipse cx="155" cy="686" rx="15" ry="6" stroke-width="6.75" fill="#fff"/>
<ellipse cx="165" cy="756" rx="45" ry="24" stroke-width="17.55" fill="none"/>
<path d="M215,792 C230,722 320,702 370,732 M250,792 C270,742 320,732 350,747 M350,642 L355,792 M300,747 L330,802" stroke-width="16.200000000000003" fill="none"/>
<path d="M20,912 L230,832 C275,827 285,862 270,892 L250,932 L100,977 L60,962 Z" stroke-width="20.25" fill="none"/>
<ellipse cx="375" cy="886" rx="40" ry="21" stroke-width="20.25" fill="none"/>
</g>
<g transform="translate(1020,300) scale(0.13333333333333333)" fill="none" stroke="#000" stroke-width="11">
<path d="M0,0 L1240,0 L1240,100 L1270,100 L1500,240 L1580,232 L1700,290 L1800,400 L1800,1050 L0,1050 Z" stroke-width="0.00135" fill="#fff"/>
</g>
<g transform="translate(1020,300) scale(0.13333333333333333)" fill="none" stroke="#000" stroke-width="11">
<path d="M0,525 L160,470 L165,415 L235,350 L240,215 L265,195 L640,65 L725,65" stroke-width="25.650000000000002" fill="none"/>
<path d="M725,65 L725,332" stroke-width="32.400000000000006" fill="none"/>
<path d="M175,410 L690,292" stroke-width="20.25" fill="none"/>
<path d="M0,600 L840,320" stroke-width="27.0" fill="none"/>
<path d="M740,338 L840,302" stroke-width="18.900000000000002" fill="none"/>
<path d="M745,265 L820,262 L820,300 L745,302 Z" stroke-width="13.5" fill="#fff"/>
<ellipse cx="795" cy="100" rx="30" ry="30" stroke="none" fill="#000"/>
<path d="M795,120 L795,190" stroke-width="29.700000000000003" fill="none"/>
<ellipse cx="785" cy="212" rx="24" ry="24" stroke-width="18.900000000000002" fill="none"/>
<ellipse cx="880" cy="25" rx="32" ry="32" stroke="none" fill="#000"/>
<ellipse cx="100" cy="55" rx="36" ry="42" stroke-width="24.3" fill="none"/>
<ellipse cx="110" cy="175" rx="34" ry="40" stroke-width="29.700000000000003" fill="none"/>
<ellipse cx="185" cy="275" rx="30" ry="32" stroke="none" fill="#000"/>
<ellipse cx="105" cy="340" rx="30" ry="32" stroke="none" fill="#000"/>
<ellipse cx="95" cy="440" rx="36" ry="32" stroke-width="21.6" fill="none"/>
<path d="M0,300 L30,300 L35,520 L0,528" stroke-width="24.3" fill="none"/>
<ellipse cx="1050" cy="75" rx="72" ry="84" stroke-width="27.0" fill="none"/>
<path d="M950,100 C970,175 1100,205 1160,125 L1172,60 M850,205 C850,150 900,130 940,160 L952,198" stroke-width="24.3" fill="none"/>
<path d="M850,242 L1230,142 L1240,105 M1232,200 L1240,105" stroke-width="22.950000000000003" fill="none"/>
<path d="M850,302 L1232,200" stroke-width="27.0" fill="none"/>
<path d="M1270,108 L1490,245" stroke-width="29.700000000000003" fill="none"/>
<path d="M940,332 L1020,385" stroke-width="21.6" fill="none"/>
<path d="M0,735 L740,500 L1560,255" stroke-width="29.700000000000003" fill="none"/>
<path d="M1565,265 L1655,262 L1655,345 L1565,345 Z" stroke-width="6.75" fill="#000"/>
<path d="M1600,300 L1630,300 L1630,315 L1600,315 Z" stroke-width="2.7" fill="#fff"/>
<path d="M1560,250 L1640,250 C1720,280 1790,360 1800,425 L1690,835" stroke-width="29.700000000000003" fill="none"/>
<path d="M1690,300 C1740,335 1775,385 1782,430 L1680,800" stroke-width="20.25" fill="none"/>
<path d="M930,570 L1450,390 L1500,402 L1500,782 L950,947 L935,902 L950,862 L1020,842 L1025,602 L950,612 Z" stroke-width="29.700000000000003" fill="none"/>
<path d="M1200,515 L1460,680" stroke-width="20.25" fill="none"/>
<path d="M225,1050 L220,860 L160,852 L155,800 L700,610 L745,622 L745,1008 L450,1095" stroke-width="29.700000000000003" fill="none"/>
<ellipse cx="835" cy="560" rx="34" ry="34" stroke-width="21.6" fill="none"/>
<ellipse cx="830" cy="660" rx="34" ry="34" stroke-width="21.6" fill="none"/>
<ellipse cx="855" cy="1000" rx="40" ry="40" stroke-width="22.950000000000003" fill="none"/>
<ellipse cx="1600" cy="425" rx="34" ry="36" stroke-width="21.6" fill="none"/>
<ellipse cx="60" cy="800" rx="30" ry="30" stroke-width="20.25" fill="none"/>
<ellipse cx="65" cy="895" rx="34" ry="34" stroke-width="20.25" fill="none"/>
<ellipse cx="1610" cy="780" rx="40" ry="46" stroke="none" fill="#000"/>
<ellipse cx="1592" cy="800" rx="10" ry="10" stroke-width="5.4" fill="#fff"/>
<path d="M965,690 C1000.0,698.0 995.0,745.0 957.0,770.0 L920.0,820.0 L915.0,880.0 C905.0,925.0 825.0,925.0 830.0,875.0 L840.0,810.0 L905.0,730.0 C920.0,695.0 945.0,682.0 965,690 Z" stroke-width="21.6" fill="none"/>
<path d="M1725,440 C1761.75,448.4 1756.5,497.75 1716.6,524.0 L1677.75,576.5 L1672.5,639.5 C1662.0,686.75 1578.0,686.75 1583.25,634.25 L1593.75,566.0 L1662.0,482.0 C1677.75,445.25 1704.0,431.6 1725,440 Z" stroke-width="21.6" fill="none"/>
<path d="M180,920 C210,925 205,960 185,985 L120,1050 M40,1050 L120,950 C140,925 160,915 180,920" stroke-width="21.6" fill="none"/>
<path d="M952,1050 L1687,844" stroke-width="27.0" fill="none"/>
<path d="M1185,1050 L1800,832" stroke-width="29.700000000000003" fill="none"/>
<path d="M1372,1050 L1800,918" stroke-width="18.900000000000002" fill="none"/>
</g>
<g transform="translate(700,360) scale(0.18333333333333332)" fill="none" stroke="#000" stroke-width="11">
<path d="M0,248 L760,12 L1745,12 L1745,165 L1285,300 L230,680 L0,700 Z" stroke-width="0.00135" fill="#fff"/>
</g>
<g transform="translate(700,360) scale(0.18333333333333332)" fill="none" stroke="#000" stroke-width="11">
<path d="M0,235 L330,130 L770,-5" stroke-width="22.950000000000003" fill="none"/>
<ellipse cx="755" cy="55" rx="29" ry="34" stroke-width="18.900000000000002" fill="none"/>
<ellipse cx="760" cy="150" rx="29" ry="30" stroke-width="18.900000000000002" fill="none" transform="rotate(10 760 150)"/>
<ellipse cx="258" cy="215" rx="31" ry="35" stroke-width="18.900000000000002" fill="none"/>
<ellipse cx="258" cy="300" rx="29" ry="27" stroke-width="18.900000000000002" fill="none"/>
<ellipse cx="320" cy="370" rx="26" ry="26" stroke="none" fill="#000"/>
<ellipse cx="262" cy="415" rx="22" ry="22" stroke="none" fill="#000"/>
<ellipse cx="255" cy="490" rx="27" ry="28" stroke-width="18.900000000000002" fill="none"/>
<ellipse cx="440" cy="375" rx="56" ry="62" stroke-width="20.25" fill="none" transform="rotate(8 440 375)"/>
<path d="M375,400 C390,462 480,472 512,402" stroke-width="18.900000000000002" fill="none"/>
<path d="M300,548 L310,470 C325,440 350,430 372,452" stroke-width="18.900000000000002" fill="none"/>
<path d="M515,402 L520,300 L545,275 L700,225 L720,237 L720,402 M515,402 L720,372" stroke-width="21.6" fill="none"/>
<ellipse cx="765" cy="265" rx="21" ry="21" stroke-width="16.200000000000003" fill="none"/>
<ellipse cx="820" cy="215" rx="20" ry="20" stroke-width="16.200000000000003" fill="none"/>
<ellipse cx="765" cy="345" rx="20" ry="18" stroke-width="16.200000000000003" fill="none"/>
<path d="M720,322 L800,318 L800,400 L722,402" stroke-width="18.900000000000002" fill="none"/>
<path d="M850,272 L860,182 L1190,67 M850,272 L820,292 L800,332 L1200,232" stroke-width="21.6" fill="none"/>
<path d="M1208,52 L1208,252" stroke-width="32.400000000000006" fill="none"/>
<path d="M1300,25 L1350,25 L1350,75 L1300,75 Z" stroke-width="5.4" fill="#000"/>
<ellipse cx="1255" cy="105" rx="24" ry="24" stroke-width="17.55" fill="none"/>
<ellipse cx="1255" cy="190" rx="26" ry="28" stroke-width="17.55" fill="none"/>
<ellipse cx="1470" cy="45" rx="58" ry="60" stroke-width="20.25" fill="none" transform="rotate(8 1470 45)"/>
<path d="M1300,142 C1320,110 1380,110 1420,132 C1460,152 1520,142 1560,82" stroke-width="18.900000000000002" fill="none"/>
<path d="M1560,82 L1570,10" stroke-width="16.200000000000003" fill="none"/>
<path d="M0,453 L164,404 L213,401 M0,578 L147,540 L191,578" stroke-width="21.6" fill="none"/>
<path d="M213,401 L213,580" stroke-width="29.700000000000003" fill="none"/>
<path d="M0,650 L213,584 L310,550 L1290,242 L1745,105" stroke-width="20.25" fill="none"/>
<path d="M0,672 L800,418 L1280,282 L1745,140" stroke-width="22.950000000000003" fill="none"/>
</g>
<g transform="translate(560,270) scale(0.16666666666666666)" fill="none" stroke="#000" stroke-width="11">
<path d="M0,422 L210,350 L300,390 L322,388 L352,300 L790,166 L900,214 L952,200 L968,110 L1330,5 L1640,5 L1640,540 L1100,712 L550,882 L0,1036 Z" stroke-width="0.00135" fill="#fff"/>
</g>
<g transform="translate(560,270) scale(0.16666666666666666)" fill="none" stroke="#000" stroke-width="11">
<path d="M0,415 L210,345 L260,360 L300,392" stroke-width="22.950000000000003" fill="none"/>
<path d="M320,385 L350,295 L790,160 L840,175 L900,210 L950,197 L965,105 L1330,0" stroke-width="22.950000000000003" fill="none"/>
<path d="M310,470 L440,430 M370,362 L400,332 L640,262 L810,217 L880,252 L1060,202 L1070,142 L1380,47 L1460,82 L1600,52" stroke-width="17.55" fill="none"/>
<path d="M350,340 L400,362 L322,386" stroke-width="14.850000000000001" fill="none"/>
<path d="M440,335 L640,345 L660,400 L640,440 L520,490 L480,470 Z M505,380 L650,385" stroke-width="18.900000000000002" fill="none"/>
<ellipse cx="570" cy="310" rx="38" ry="20" stroke-width="21.6" fill="none"/>
<path d="M640,345 L635,262 L790,217 M730,300 L850,270 L890,322 L1040,277" stroke-width="17.55" fill="none"/>
<path d="M670,360 L790,365 L830,430 L860,480 L800,480 L700,420 Z" stroke-width="18.900000000000002" fill="none"/>
<ellipse cx="745" cy="390" rx="42" ry="23" stroke="none" fill="#000"/>
<ellipse cx="745" cy="390" rx="14" ry="7" stroke-width="6.75" fill="#fff"/>
<ellipse cx="685" cy="520" rx="48" ry="24" stroke-width="21.6" fill="none"/>
<ellipse cx="600" cy="575" rx="46" ry="25" stroke="none" fill="#000"/>
<ellipse cx="600" cy="575" rx="14" ry="7" stroke-width="6.75" fill="#fff"/>
<path d="M760,630 C780,570 900,540 950,580 L1000,560 M790,640 C820,590 900,580 940,610 L880,650 L770,640 M920,512 C960,490 1000,510 1010,542" stroke-width="18.900000000000002" fill="none"/>
<path d="M660,600 L740,585 L745,640 L665,655 Z" stroke-width="17.55" fill="none"/>
<path d="M703,592 L708,640" stroke-width="29.700000000000003" fill="none"/>
<path d="M550,690 L560,640 L640,625 L650,662" stroke-width="24.3" fill="none"/>
<path d="M605,735 L820,660 C860,655 870,690 860,720 L845,760 L700,805 L660,790 Z" stroke-width="22.950000000000003" fill="none"/>
<ellipse cx="940" cy="705" rx="38" ry="19" stroke-width="21.6" fill="none"/>
<path d="M170,420 C190,385 240,395 270,440 L330,560 L360,640 L340,660 L170,560 L150,500 Z M215,470 L260,475 L340,600" stroke-width="18.900000000000002" fill="none"/>
<ellipse cx="225" cy="545" rx="33" ry="19" stroke-width="20.25" fill="none"/>
<ellipse cx="100" cy="450" rx="38" ry="20" stroke-width="24.3" fill="none"/>
<path d="M0,475 L60,490 L130,480 M0,530 L120,545 M150,560 L170,600 L340,660 M0,650 L145,600" stroke-width="17.55" fill="none"/>
<path d="M100,800 C110,760 160,730 200,735 L200,800 M230,790 C250,730 380,710 430,760 L420,782 C380,752 300,752 260,800 M330,760 L340,782" stroke-width="18.900000000000002" fill="none"/>
<path d="M290,690 L470,665 L480,700 L300,702 Z" stroke-width="6.75" fill="#000"/>
<path d="M120,880 L330,810 C370,805 380,840 370,870 L355,910 L210,950 L170,935 Z" stroke-width="22.950000000000003" fill="none"/>
<ellipse cx="80" cy="845" rx="43" ry="21" stroke-width="21.6" fill="none"/>
<ellipse cx="445" cy="855" rx="40" ry="21" stroke-width="21.6" fill="none"/>
<path d="M1075,135 L1085,290 L1200,255 M1110,190 L1260,140" stroke-width="18.900000000000002" fill="none"/>
<path d="M1250,165 C1280,130 1370,135 1400,180 L1430,250 L1440,300 L1390,300 L1270,220 Z M1290,215 L1400,290" stroke-width="18.900000000000002" fill="none"/>
<ellipse cx="1330" cy="185" rx="33" ry="19" stroke-width="21.6" fill="none"/>
<ellipse cx="1260" cy="285" rx="34" ry="15" stroke-width="17.55" fill="none"/>
<ellipse cx="1275" cy="325" rx="34" ry="15" stroke-width="17.55" fill="none"/>
<ellipse cx="1180" cy="375" rx="46" ry="18" stroke="none" fill="#000"/>
<ellipse cx="1180" cy="375" rx="15" ry="5" stroke-width="5.4" fill="#fff"/>
<path d="M1340,440 C1360,380 1480,350 1540,390 L1530,420 C1480,390 1400,400 1370,450 Z M1200,440 L1300,400 L1310,450 L1210,465 Z M1480,340 L1560,320 L1620,375 L1540,400" stroke-width="17.55" fill="none"/>
<path d="M1262,398 L1300,392 L1302,428 L1264,432 Z" stroke-width="10.8" fill="#000"/>
<path d="M1185,450 L1160,540 L1192,556" stroke-width="22.950000000000003" fill="none"/>
<path d="M1225,535 L1410,470 C1450,465 1455,495 1445,525 L1430,560 L1300,610 L1260,595 Z" stroke-width="22.950000000000003" fill="none"/>
<ellipse cx="1530" cy="520" rx="40" ry="19" stroke-width="21.6" fill="none"/>
<path d="M0,1046 L550,888 L1100,722 L1800,492" stroke-width="22.950000000000003" fill="none"/>
</g>
<g transform="translate(270,460) scale(0.13333333333333333)" fill="none" stroke="#000" stroke-width="11">
<path d="M275,410 C290,385 340,385 385,430 L395,545 C380,585 320,590 295,565 Z" stroke-width="8.100000000000001" fill="#000"/>
<path d="M312,482 L375,482 C383,520 360,548 335,546 C317,530 307,500 312,482 Z" stroke-width="5.4" fill="#fff"/>
<path d="M415,360 C430,340 510,340 530,365 L530,490 L490,520 L460,520 L415,480 Z" stroke-width="8.100000000000001" fill="#000"/>
<path d="M436,405 L458,405 L458,450 L436,450 Z M488,440 L505,440 L505,480 L488,480 Z M495,390 L510,390 L510,405 L495,405 Z" stroke-width="2.7" fill="#fff"/>
<path d="M247,715 L247,795 C300,875 500,875 555,795 L558,715 Z" stroke-width="10.8" fill="#000"/>
<ellipse cx="400" cy="708" rx="153" ry="84" stroke-width="24.3" fill="#fff"/>
<ellipse cx="390" cy="712" rx="55" ry="32" stroke-width="32.400000000000006" fill="none"/>
<path d="M340,808 L380,812 M410,812 L440,806" stroke-width="10.8" fill="none"/>
<path d="M285,1050 C295,960 330,920 400,915 C470,920 500,960 510,1050 Z" stroke-width="10.8" fill="#000"/>
<path d="M340,965 C360,935 430,930 460,950 L440,975 C410,960 380,965 355,990 Z" stroke-width="5.4" fill="#fff"/>
<path d="M340,1050 C350,1010 440,1000 470,1050 Z" stroke-width="5.4" fill="#fff"/>
<path d="M1020,215 C1040,190 1100,195 1130,230 L1145,340 C1130,375 1080,380 1050,360 Z" stroke-width="8.100000000000001" fill="#000"/>
<path d="M1067,287 L1123,287 C1125,320 1120,345 1100,348 C1082,345 1072,320 1067,287 Z" stroke-width="5.4" fill="#fff"/>
<path d="M1125,180 C1150,150 1250,150 1275,185 L1270,300 L1230,345 L1190,345 L1185,290 L1150,290 L1130,240 Z" stroke-width="8.100000000000001" fill="#000"/>
<path d="M1182,210 L1198,205 L1185,270 L1170,268 Z M1230,205 L1255,205 L1255,230 L1230,230 Z" stroke-width="2.7" fill="#fff"/>
<path d="M985,520 C1000,600 1040,660 1100,672 L1210,672 C1260,650 1300,600 1322,520 Z" stroke-width="10.8" fill="#000"/>
<ellipse cx="1155" cy="508" rx="170" ry="92" stroke-width="24.3" fill="#fff"/>
<ellipse cx="1148" cy="508" rx="75" ry="42" stroke="none" fill="#000"/>
<ellipse cx="1148" cy="508" rx="32" ry="13" stroke-width="5.4" fill="#fff"/>
<path d="M1050,597 L1110,601 M1180,601 L1240,595 M1085,637 L1200,637" stroke-width="9.450000000000001" fill="none"/>
<path d="M1050,760 C1060,712 1220,702 1235,760 L1262,800 L1257,872 C1230,918 1080,928 1030,882 L1020,812 Z" stroke-width="10.8" fill="#000"/>
<path d="M1090,745 L1190,740 L1190,750 L1090,755 Z" stroke-width="4.050000000000001" fill="#fff"/>
<ellipse cx="1150" cy="828" rx="68" ry="26" stroke-width="13.5" fill="#fff"/>
<path d="M1100,800 L1130,797 L1130,806 L1100,808 Z M1145,796 L1185,794 L1185,804 L1145,806 Z M1110,868 L1140,868 L1140,876 L1110,876 Z M1150,868 L1180,866 L1180,874 L1150,876 Z" stroke-width="2.7" fill="#fff"/>
<path d="M1085,835 L1215,835" stroke-width="12.15" fill="none"/>
</g>
<g transform="translate(270,580) scale(0.13333333333333333)" fill="none" stroke="#000" stroke-width="11">
<path d="M310,40 C330,10 470,10 490,40 L492,95 L510,110 L508,185 C480,225 320,225 282,185 L280,110 L305,95 Z" stroke-width="8.100000000000001" fill="#000"/>
<path d="M345,62 C370,40 430,38 455,55 L450,70 C420,55 380,58 350,78 Z" stroke-width="4.050000000000001" fill="#fff"/>
<path d="M340,120 L460,112 C465,150 430,170 395,168 C360,165 340,145 340,120 Z" stroke-width="4.050000000000001" fill="#fff"/>
<path d="M462,150 L490,140 L488,162 L465,170 Z" stroke-width="2.7" fill="#fff"/>
<path d="M355,330 C380,305 510,305 540,330 L548,700 C520,730 330,730 300,700 L300,380 Z" stroke-width="8.100000000000001" fill="#000"/>
<path d="M360,780 C440,790 520,780 545,740 L560,690" stroke-width="43.2" fill="none"/>
<path d="M355,405 L420,400 M440,370 L465,372 M385,478 L435,474 M470,462 L500,460 M365,518 L440,514 M365,552 L430,550 M465,548 L495,546 M320,575 L335,574 M370,590 L440,588 M345,610 L480,640 M365,665 L435,668 M480,632 L500,630 M330,480 L340,478" stroke="#fff" stroke-width="20" fill="none"/>
<path d="M1085,95 C1110,65 1230,65 1252,95 L1255,165 L1275,190 L1292,470 C1260,500 1080,500 1040,470 L1020,180 L1085,160 Z" stroke-width="8.100000000000001" fill="#000"/>
<path d="M1085,560 C1150,570 1240,560 1270,530 L1290,490" stroke-width="43.2" fill="none"/>
<path d="M1115,118 L1215,122 M1120,155 L1200,152 M1090,195 L1170,192 M1205,228 L1245,226 M1130,222 L1150,222 M1150,245 L1190,262 M1060,270 L1070,250 M1105,283 L1140,283 M1235,300 L1245,345 M1070,370 C1060,340 1090,320 1130,330 M1075,435 L1100,435 M1125,440 L1150,440 M1180,432 L1250,426 M1130,480 L1180,478 M1215,400 L1225,410" stroke="#fff" stroke-width="16" fill="none"/>
<path d="M1110,830 C1105,770 1125,745 1185,742 C1245,745 1265,775 1262,830 Z" stroke-width="8.100000000000001" fill="#000"/>
<path d="M1150,790 C1170,778 1200,778 1220,790 C1200,800 1170,800 1150,790 Z" stroke-width="2.7" fill="#fff"/>
<path d="M1110,815 L1080,835 L1045,1050 M1262,815 L1305,840 L1340,1050" stroke-width="22.950000000000003" fill="none"/>
<path d="M1100,870 C1100,950 1150,985 1200,985 C1260,980 1300,930 1300,870" stroke-width="18.900000000000002" fill="none"/>
<path d="M1115,885 C1150,905 1200,905 1235,890 L1220,915 C1190,925 1160,920 1130,905 Z" stroke-width="5.4" fill="#000"/>
<path d="M360,1050 C370,1005 420,985 450,985 C490,990 525,1010 535,1050 Z" stroke-width="8.100000000000001" fill="#000"/>
</g>
<g transform="translate(270,700) scale(0.13333333333333333)" fill="none" stroke="#000" stroke-width="11">
<ellipse cx="465" cy="522" rx="203" ry="93" stroke-width="16.200000000000003" fill="none"/>
<ellipse cx="465" cy="510" rx="203" ry="93" stroke-width="22.950000000000003" fill="none"/>
<path d="M347,190 L318,320 L316,480 C340,560 590,560 622,470 L600,305 L573,190 Z" stroke-width="22.950000000000003" fill="#fff"/>
<path d="M360,185 L365,120 C400,85 490,85 530,125 L535,185 C500,220 400,220 360,185 Z" stroke-width="8.100000000000001" fill="#000"/>
<path d="M430,148 L460,145 L460,160 L430,162 Z M485,140 L510,140 L510,155 L485,155 Z M435,195 L465,195 L465,210 L435,210 Z" stroke-width="2.7" fill="#fff"/>
<path d="M325,300 C370,342 540,338 600,300" stroke-width="18.900000000000002" fill="none"/>
<path d="M360,252 C400,268 450,268 490,256 L480,280 C440,290 400,285 372,272 Z" stroke-width="5.4" fill="#000"/>
<path d="M345,415 C400,435 460,438 510,428 L500,448 C450,455 400,450 360,438 Z" stroke-width="5.4" fill="#000"/>
<ellipse cx="1210" cy="304" rx="203" ry="98" stroke-width="16.200000000000003" fill="none"/>
<ellipse cx="1210" cy="292" rx="203" ry="98" stroke-width="22.950000000000003" fill="none"/>
<path d="M1075,-10 L1045,210 C1060,330 1330,330 1347,205 L1320,-10 Z" stroke-width="22.950000000000003" fill="#fff"/>
<path d="M1095,30 C1130,90 1270,85 1310,30" stroke-width="18.900000000000002" fill="none"/>
<path d="M1090,148 C1140,165 1220,165 1275,152 L1265,185 C1220,200 1150,198 1105,180 Z" stroke-width="5.4" fill="#000"/>
<path d="M1150,410 L1190,425 L1240,410" stroke-width="13.5" fill="none"/>
<ellipse cx="1192" cy="452" rx="73" ry="24" stroke-width="20.25" fill="none"/>
<path d="M1120,455 L1118,870 C1140,905 1240,905 1268,870 L1266,455" stroke-width="22.950000000000003" fill="none"/>
<path d="M1122,482 C1150,505 1240,505 1264,482 M1122,512 C1150,535 1240,535 1264,512" stroke-width="16.200000000000003" fill="none"/>
<ellipse cx="462" cy="688" rx="66" ry="32" stroke-width="20.25" fill="none"/>
<path d="M396,690 L385,1050 M528,690 L552,1050" stroke-width="22.950000000000003" fill="none"/>
<path d="M400,725 C430,755 500,755 528,722" stroke-width="16.200000000000003" fill="none"/>
<path d="M430,700 L495,698" stroke-width="13.5" fill="none"/>
</g>
<g transform="translate(270,830) scale(0.13333333333333333)" fill="none" stroke="#000" stroke-width="11">
<path d="M385,0 L400,130 C440,165 510,160 545,130 L550,0" stroke-width="22.950000000000003" fill="none"/>
<ellipse cx="477" cy="345" rx="158" ry="74" stroke-width="22.950000000000003" fill="none"/>
<ellipse cx="478" cy="350" rx="122" ry="52" stroke-width="16.200000000000003" fill="none"/>
<ellipse cx="478" cy="356" rx="95" ry="36" stroke-width="16.200000000000003" fill="none"/>
<path d="M319,350 L319,455 C360,530 600,530 634,455 L635,350" stroke-width="22.950000000000003" fill="none"/>
<path d="M345,405 C400,470 560,470 610,405" stroke-width="16.200000000000003" fill="none"/>
<ellipse cx="1205" cy="130" rx="128" ry="64" stroke-width="27.0" fill="none"/>
<ellipse cx="1205" cy="152" rx="98" ry="40" stroke-width="17.55" fill="none"/>
<path d="M1077,130 L1078,235 C1120,280 1290,280 1332,235 L1333,130" stroke-width="22.950000000000003" fill="none"/>
<path d="M1100,200 C1150,225 1260,225 1310,200" stroke-width="13.5" fill="none"/>
<path d="M420,690 L425,590 L440,565 L495,565 L505,600 L508,690 Z" stroke-width="8.100000000000001" fill="#000"/>
<path d="M455,625 L475,625 L475,672 L455,672 Z" stroke-width="2.7" fill="#fff"/>
<path d="M427,690 L440,1050 M506,690 L520,1050 M455,700 L466,1050" stroke-width="20.25" fill="none"/>
<path d="M1165,400 L1168,365 L1190,345 L1235,345 L1250,370 L1252,400 Z" stroke-width="8.100000000000001" fill="#000"/>
<path d="M1168,400 L1175,1050 M1251,400 L1263,1050" stroke-width="24.3" fill="none"/>
<path d="M1193,410 L1200,1050" stroke-width="16.200000000000003" fill="none"/>
</g>
<g transform="translate(270,905) scale(0.13333333333333333)" fill="none" stroke="#000" stroke-width="11">
<path d="M427,130 L441,640 C430,680 380,710 330,722 M506,130 L521,640 C540,680 580,705 625,720 M456,140 L468,620" stroke-width="20.25" fill="none"/>
<ellipse cx="472" cy="762" rx="153" ry="64" stroke-width="22.950000000000003" fill="none"/>
<ellipse cx="475" cy="747" rx="122" ry="44" stroke-width="16.200000000000003" fill="none"/>
<path d="M1172,0 L1176,480 C1165,520 1130,545 1100,557 M1256,0 L1261,480 C1280,515 1320,545 1350,560" stroke-width="24.3" fill="none"/>
<path d="M1196,0 L1201,470" stroke-width="16.200000000000003" fill="none"/>
<ellipse cx="1222" cy="596" rx="133" ry="54" stroke-width="24.3" fill="none"/>
<ellipse cx="1222" cy="586" rx="100" ry="34" stroke-width="16.200000000000003" fill="none"/>
</g>
<g transform="translate(600,590) scale(0.13333333333333333)" fill="none" stroke="#000" stroke-width="11">
<path d="M570,262 L650,237 L722,290 L735,400 L680,482 L590,442 L550,340 Z" stroke-width="27.0" fill="#fff"/>
<ellipse cx="645" cy="360" rx="36" ry="56" stroke-width="24.3" fill="none" transform="rotate(-8 645 360)"/>
<ellipse cx="645" cy="360" rx="8" ry="24" stroke-width="10.8" fill="none" transform="rotate(-8 645 360)"/>
<path d="M650,237 L700,225 L830,225 C880,230 905,280 900,340 C895,380 870,395 840,392 L735,400" stroke-width="27.0" fill="none"/>
<path d="M760,250 C740,290 745,350 775,395 M805,240 C785,280 790,340 815,385 M850,235 C835,270 840,330 860,375" stroke-width="24.3" fill="none"/>
<path d="M660,262 L700,270 M730,425 L760,445" stroke-width="18.900000000000002" fill="none"/>
</g>
<g transform="translate(1170,570) scale(0.13333333333333333)" fill="none" stroke="#000" stroke-width="11">
<path d="M460,480 C470,440 520,430 560,455 L760,560 C790,600 775,680 722,705 C690,712 650,700 640,680 L480,580 C455,550 450,510 460,480 Z" stroke-width="32.400000000000006" fill="#fff"/>
<ellipse cx="712" cy="632" rx="38" ry="62" stroke-width="24.3" fill="none" transform="rotate(25 712 632)"/>
<path d="M525,470 C500,500 500,560 530,590 M570,490 C548,520 548,580 578,615 M615,515 C595,545 595,600 625,640 M660,540 C645,565 645,620 668,660" stroke-width="21.6" fill="none"/>
<path d="M540,520 L560,530 L555,560 M590,540 L600,590" stroke-width="13.5" fill="none"/>
</g>
<g transform="translate(520,780) scale(0.2)" fill="none" stroke="#000" stroke-width="11">
<path d="M55,430 L150,385 L1400,25 L1700,-67" stroke-width="22.950000000000003" fill="none"/>
<path d="M55,430 L75,490 L220,600 L450,750 L560,795" stroke-width="35.1" fill="none"/>
<path d="M560,795 L900,700 L1400,555 L1800,432" stroke-width="29.700000000000003" fill="none"/>
<path d="M95,445 L160,420 M300,600 L480,700 L520,722 L560,772 M520,722 L1750,370" stroke-width="13.5" fill="none"/>
<path d="M125,440 C150,430 180,445 250,500 C270,520 260,540 235,540 C200,535 160,510 115,475 C100,460 105,445 125,440 Z" stroke-width="16.200000000000003" fill="none"/>
<path d="M140,460 L225,515" stroke-width="12.15" fill="none"/>
<path d="M210,420 L530,318 L600,362 L575,395 L400,425 L380,462 L245,472 Z" stroke-width="21.6" fill="none"/>
<path d="M615,300 L1010,185 L1075,235 L1050,262 L850,290 L825,337 L650,342 Z" stroke-width="21.6" fill="none"/>
<path d="M1105,150 L1490,35 L1550,70 L1500,100 L1440,130 L1310,140 L1290,182 L1140,192 Z" stroke-width="21.6" fill="none"/>
<ellipse cx="605" cy="573" rx="240" ry="126" stroke-width="20.25" fill="none" transform="rotate(-4 605 573)"/>
<ellipse cx="1077" cy="433" rx="242" ry="126" stroke-width="20.25" fill="none" transform="rotate(-4 1077 433)"/>
<ellipse cx="1535" cy="288" rx="245" ry="128" stroke-width="20.25" fill="none" transform="rotate(-4 1535 288)"/>
<ellipse cx="440" cy="440" rx="30" ry="18" stroke-width="16.200000000000003" fill="none" transform="rotate(-10 440 440)"/>
<ellipse cx="895" cy="300" rx="35" ry="22" stroke-width="16.200000000000003" fill="none" transform="rotate(-10 895 300)"/>
<ellipse cx="1365" cy="160" rx="35" ry="20" stroke-width="16.200000000000003" fill="none" transform="rotate(-10 1365 160)"/>
<ellipse cx="310" cy="570" rx="28" ry="16" stroke-width="16.200000000000003" fill="none" transform="rotate(-10 310 570)"/>
<ellipse cx="760" cy="425" rx="30" ry="18" stroke-width="16.200000000000003" fill="none" transform="rotate(-10 760 425)"/>
<ellipse cx="1220" cy="285" rx="32" ry="20" stroke-width="16.200000000000003" fill="none" transform="rotate(-10 1220 285)"/>
<ellipse cx="1690" cy="140" rx="32" ry="20" stroke-width="16.200000000000003" fill="none" transform="rotate(-10 1690 140)"/>
<ellipse cx="920" cy="580" rx="30" ry="18" stroke-width="16.200000000000003" fill="none" transform="rotate(-10 920 580)"/>
<ellipse cx="1385" cy="435" rx="30" ry="18" stroke-width="16.200000000000003" fill="none" transform="rotate(-10 1385 435)"/>
<ellipse cx="495" cy="705" rx="24" ry="20" stroke-width="17.55" fill="none"/>
<ellipse cx="780" cy="690" rx="32" ry="20" stroke-width="16.200000000000003" fill="none" transform="rotate(-10 780 690)"/>
<ellipse cx="1245" cy="550" rx="30" ry="18" stroke-width="16.200000000000003" fill="none" transform="rotate(-10 1245 550)"/>
<ellipse cx="1720" cy="405" rx="30" ry="18" stroke-width="16.200000000000003" fill="none" transform="rotate(-10 1720 405)"/>
<ellipse cx="720" cy="372" rx="25" ry="18" stroke="none" fill="#000" transform="rotate(-10 720 372)"/>
<ellipse cx="1205" cy="220" rx="38" ry="18" stroke="none" fill="#000" transform="rotate(-10 1205 220)"/>
<ellipse cx="1685" cy="85" rx="28" ry="16" stroke="none" fill="#000" transform="rotate(-10 1685 85)"/>
<ellipse cx="875" cy="625" rx="25" ry="20" stroke="none" fill="#000" transform="rotate(-10 875 625)"/>
<ellipse cx="1345" cy="488" rx="28" ry="16" stroke="none" fill="#000" transform="rotate(-10 1345 488)"/>
</g>
<g transform="translate(860,670) scale(0.2)" fill="none" stroke="#000" stroke-width="11">
<path d="M-400,600 L0,470 L1120,105 L1180,95 L1330,100" stroke-width="22.950000000000003" fill="none"/>
<path d="M1330,100 L1450,200 L1745,420 L1745,462 L1700,477" stroke-width="27.0" fill="none"/>
<path d="M1745,462 L1480,532 L1000,685 L500,842 L0,1005 L-150,1050" stroke-width="32.400000000000006" fill="none"/>
<path d="M0,975 L480,820 L950,665 L1440,520 L1720,467" stroke-width="13.5" fill="none"/>
<path d="M-110,570 L260,440 L325,485 L300,510 L100,535 L85,580 L-85,602 Z" stroke-width="21.6" fill="none"/>
<path d="M365,410 L770,270 L840,320 L820,357 L575,377 L550,440 L390,452 Z" stroke-width="21.6" fill="none"/>
<path d="M880,250 L1200,140 L1255,180 L1225,200 L1080,215 L1060,270 L920,287 Z" stroke-width="21.6" fill="none"/>
<path d="M1080,255 L1300,175 L1360,185 L1340,202 L1210,265 L1110,277 Z" stroke-width="20.25" fill="none"/>
<ellipse cx="312" cy="697" rx="245" ry="127" stroke-width="20.25" fill="none" transform="rotate(-4 312 697)"/>
<ellipse cx="805" cy="552" rx="245" ry="124" stroke-width="20.25" fill="none" transform="rotate(-4 805 552)"/>
<ellipse cx="1295" cy="397" rx="245" ry="124" stroke-width="20.25" fill="none" transform="rotate(-4 1295 397)"/>
<ellipse cx="150" cy="570" rx="35" ry="20" stroke-width="16.200000000000003" fill="none" transform="rotate(-10 150 570)"/>
<ellipse cx="620" cy="420" rx="35" ry="22" stroke-width="16.200000000000003" fill="none" transform="rotate(-10 620 420)"/>
<ellipse cx="1410" cy="240" rx="30" ry="18" stroke-width="16.200000000000003" fill="none" transform="rotate(-10 1410 240)"/>
<ellipse cx="475" cy="548" rx="32" ry="18" stroke-width="16.200000000000003" fill="none" transform="rotate(-10 475 548)"/>
<ellipse cx="950" cy="390" rx="35" ry="20" stroke-width="16.200000000000003" fill="none" transform="rotate(-10 950 390)"/>
<ellipse cx="1600" cy="385" rx="34" ry="20" stroke-width="16.200000000000003" fill="none" transform="rotate(-10 1600 385)"/>
<ellipse cx="1125" cy="535" rx="35" ry="22" stroke-width="16.200000000000003" fill="none" transform="rotate(-10 1125 535)"/>
<ellipse cx="625" cy="685" rx="35" ry="20" stroke-width="16.200000000000003" fill="none" transform="rotate(-10 625 685)"/>
<ellipse cx="1475" cy="520" rx="25" ry="14" stroke-width="16.200000000000003" fill="none" transform="rotate(-10 1475 520)"/>
<ellipse cx="985" cy="660" rx="25" ry="14" stroke-width="16.200000000000003" fill="none" transform="rotate(-10 985 660)"/>
<ellipse cx="505" cy="800" rx="28" ry="16" stroke-width="16.200000000000003" fill="none" transform="rotate(-10 505 800)"/>
<ellipse cx="155" cy="840" rx="35" ry="22" stroke-width="16.200000000000003" fill="none" transform="rotate(-10 155 840)"/>
<ellipse cx="15" cy="950" rx="28" ry="20" stroke-width="16.200000000000003" fill="none" transform="rotate(-10 15 950)"/>
<ellipse cx="460" cy="490" rx="30" ry="18" stroke="none" fill="#000" transform="rotate(-10 460 490)"/>
<ellipse cx="965" cy="320" rx="30" ry="22" stroke="none" fill="#000" transform="rotate(-10 965 320)"/>
<ellipse cx="1570" cy="450" rx="28" ry="15" stroke="none" fill="#000" transform="rotate(-10 1570 450)"/>
<ellipse cx="1095" cy="598" rx="26" ry="14" stroke="none" fill="#000" transform="rotate(-10 1095 598)"/>
<ellipse cx="595" cy="750" rx="28" ry="13" stroke="none" fill="#000" transform="rotate(-10 595 750)"/>
<ellipse cx="120" cy="893" rx="30" ry="15" stroke="none" fill="#000" transform="rotate(-10 120 893)"/>
<ellipse cx="0" cy="690" rx="22" ry="16" stroke="none" fill="#000" transform="rotate(-10 0 690)"/>
</g>
</svg>
<div id="frame"></div>
</body></html>
